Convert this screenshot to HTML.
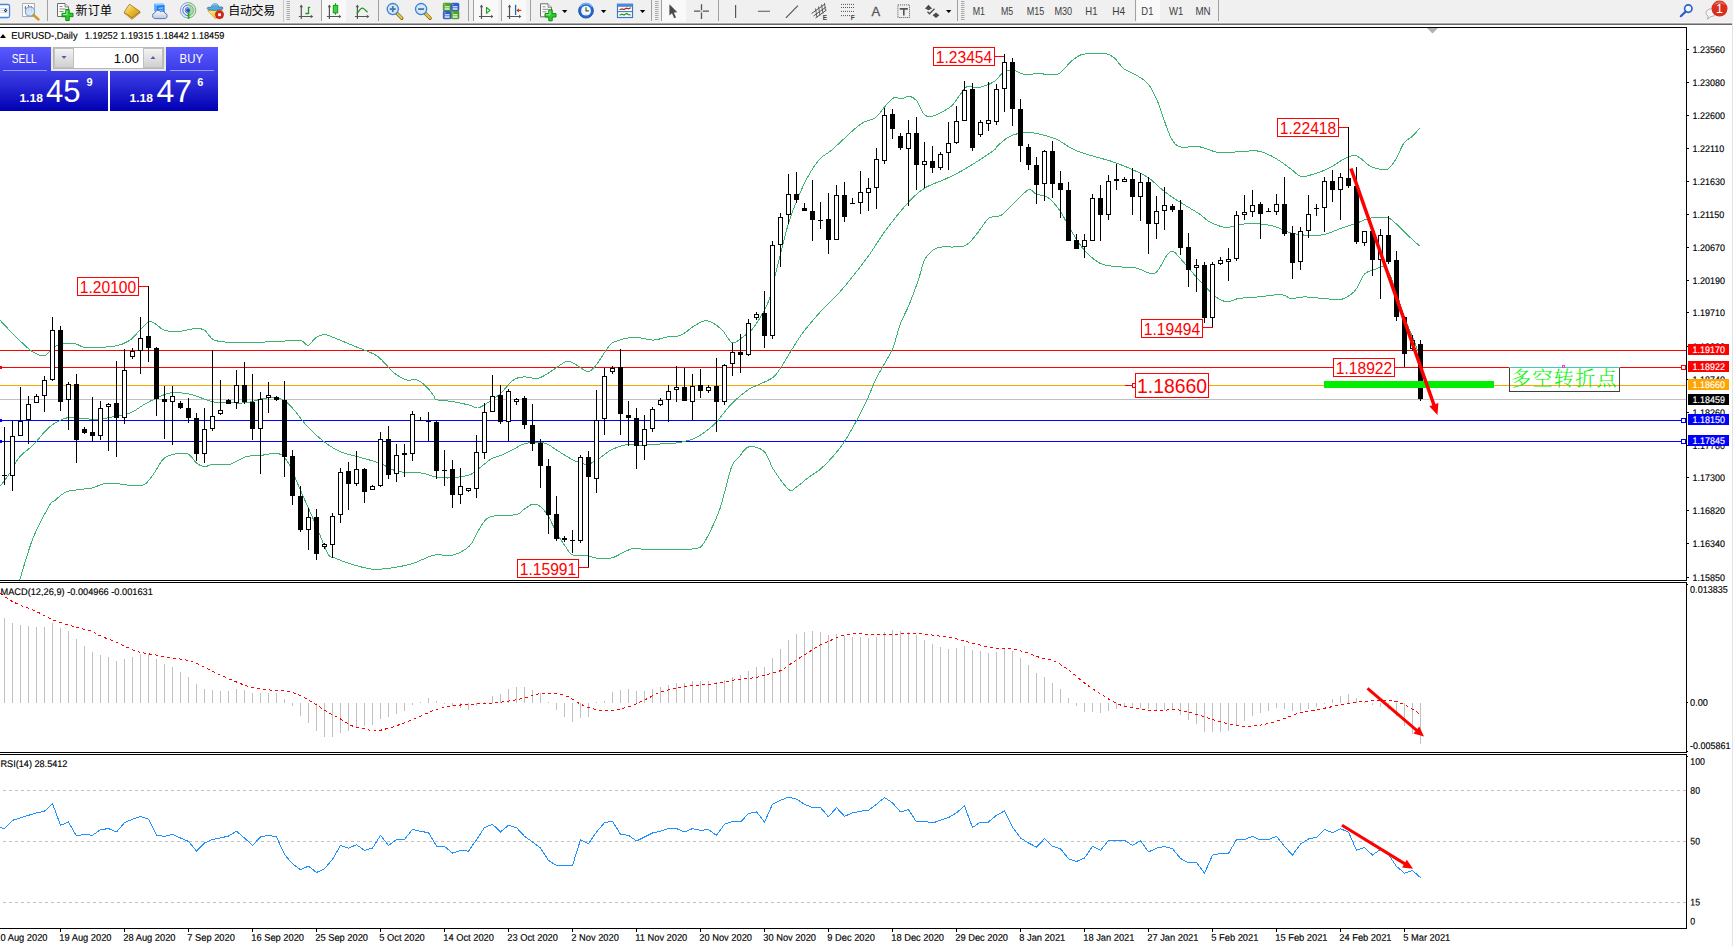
<!DOCTYPE html><html><head><meta charset="utf-8"><title>EURUSD-,Daily</title>
<style>html,body{margin:0;padding:0;background:#fff;overflow:hidden}body{width:1733px;height:946px;position:relative;font-family:"Liberation Sans", sans-serif}svg{position:absolute;left:0;top:0;display:block}text{font-family:"Liberation Sans", sans-serif}.cjk{font-family:"Liberation Sans", "Noto Sans CJK SC", sans-serif}</style></head><body>
<svg width="1733" height="946" viewBox="0 0 1733 946">
<defs><linearGradient id="gb" x1="0" y1="0" x2="0" y2="1"><stop offset="0" stop-color="#4040e8"/><stop offset="1" stop-color="#0000b4"/></linearGradient><linearGradient id="gt" x1="0" y1="0" x2="0" y2="1"><stop offset="0" stop-color="#5a5aff"/><stop offset="1" stop-color="#3a3ae6"/></linearGradient><linearGradient id="gs" x1="0" y1="0" x2="0" y2="1"><stop offset="0" stop-color="#f4f4f4"/><stop offset="1" stop-color="#cfcfcf"/></linearGradient><clipPath id="cm"><rect x="0" y="28" width="1686" height="552"/></clipPath></defs>
<rect width="1733" height="946" fill="#fff"/>
<g clip-path="url(#cm)">
<rect x="0" y="399" width="1686" height="1" fill="#c0c0c0" shape-rendering="crispEdges"/>
<rect x="0" y="350" width="1686" height="1" fill="#ff0000" shape-rendering="crispEdges"/>
<rect x="0" y="367" width="1686" height="1" fill="#ff0000" shape-rendering="crispEdges"/>
<rect x="0" y="385" width="1686" height="1" fill="#ffa500" shape-rendering="crispEdges"/>
<rect x="0" y="420" width="1686" height="1" fill="#0000ff" shape-rendering="crispEdges"/>
<rect x="0" y="441" width="1686" height="1" fill="#0000ff" shape-rendering="crispEdges"/>
<path d="M0.0,320.2C1.6,321.9 6.6,327.3 9.8,330.6C13.1,334.0 15.8,336.9 19.7,340.5C23.5,344.0 28.7,349.4 32.8,351.9C36.9,354.5 41.5,355.9 44.3,355.9C47.0,355.9 46.7,353.8 49.2,351.9C51.6,350.1 54.6,346.1 59.0,344.7C63.4,343.4 71.0,343.3 75.4,343.8C79.8,344.2 78.7,347.0 85.2,347.4C91.8,347.7 107.4,347.2 114.7,346.0C122.1,344.9 125.1,343.3 129.5,340.5C133.8,337.6 137.7,332.2 141.0,329.0C144.2,325.8 146.7,322.3 149.1,321.5C151.6,320.6 153.2,322.7 155.7,324.1C158.2,325.5 160.3,328.7 163.9,330.0C167.4,331.2 171.5,331.9 177.0,331.6C182.5,331.4 192.0,328.5 196.7,328.3C201.3,328.2 202.1,328.8 204.9,330.6C207.6,332.5 209.5,337.6 213.1,339.5C216.6,341.4 218.0,341.7 226.2,342.1C234.4,342.6 250.8,342.4 262.2,342.1C273.7,341.8 288.5,340.7 295.0,340.5C301.6,340.2 299.4,339.7 301.6,340.5C303.8,341.3 305.7,345.9 308.1,345.4C310.6,344.8 313.6,339.0 316.3,337.2C319.1,335.4 321.5,334.5 324.5,334.6C327.5,334.7 329.4,335.9 334.4,337.9C339.3,339.8 346.9,343.0 354.0,346.0C361.1,349.1 370.4,351.5 377.0,355.9C383.5,360.3 388.4,368.3 393.4,372.3C398.3,376.3 402.6,378.6 406.5,379.8C410.3,381.1 413.0,378.7 416.3,379.8C419.6,380.9 423.2,383.6 426.1,386.4C429.1,389.1 432.3,394.0 434.0,396.2C435.7,398.4 433.3,398.8 436.5,399.7C439.7,400.6 447.5,400.7 453.0,401.6C458.5,402.5 465.4,404.2 469.5,405.2C473.6,406.3 475.0,408.2 477.7,408.0C480.5,407.7 482.3,406.1 486.0,403.8C489.6,401.5 495.1,398.2 499.7,394.2C504.3,390.2 509.3,382.8 513.5,379.9C517.6,377.0 520.3,377.2 524.4,376.9C528.6,376.6 533.6,379.3 538.2,378.3C542.8,377.3 547.4,373.6 551.9,370.8C556.5,368.1 562.0,363.0 565.7,361.8C569.3,360.5 570.3,361.8 573.9,363.4C577.6,365.0 584.0,371.1 587.7,371.4C591.3,371.7 592.2,369.7 595.9,365.4C599.6,361.0 606.0,349.4 609.7,345.3C613.3,341.2 614.7,341.9 617.9,340.6C621.1,339.4 625.2,338.3 628.9,337.9C632.6,337.4 635.8,337.5 639.9,337.9C644.0,338.2 649.0,340.2 653.6,340.1C658.2,339.9 662.8,337.9 667.4,337.0C672.0,336.2 676.5,337.0 681.1,335.1C685.7,333.2 690.5,327.9 694.9,325.5C699.2,323.1 702.8,320.2 707.2,320.8C711.7,321.5 717.3,325.7 721.5,329.4C725.6,333.0 728.6,341.3 732.2,342.5C735.8,343.8 739.6,339.2 742.9,337.0C746.2,334.8 749.1,332.9 752.1,329.4C755.2,325.8 758.5,320.4 761.3,315.6C764.1,310.7 766.7,306.9 769.0,300.2C771.3,293.6 772.8,284.9 775.1,275.7C777.4,266.5 780.5,254.0 782.8,245.0C785.1,236.1 786.4,230.0 788.9,222.0C791.5,214.1 795.0,204.9 798.1,197.5C801.2,190.1 803.7,184.0 807.3,177.6C810.9,171.2 815.5,163.8 819.6,159.2C823.7,154.6 825.1,155.8 831.8,150.0C838.6,144.2 852.8,129.9 860.0,124.5C867.2,119.2 871.2,120.7 875.3,117.8C879.4,114.9 881.5,110.4 884.5,107.0C887.6,103.7 890.9,99.2 893.7,97.8C896.5,96.5 898.8,99.0 901.4,98.8C903.9,98.5 906.5,96.0 909.1,96.3C911.6,96.7 914.2,97.8 916.7,100.9C919.3,104.0 921.8,112.2 924.4,114.7C926.9,117.3 929.0,116.8 932.0,116.2C935.1,115.7 939.5,113.4 942.8,111.6C946.1,109.9 948.9,108.6 952.0,105.5C955.0,102.4 958.6,96.4 961.2,93.3C963.7,90.1 964.7,87.4 967.3,86.5C969.9,85.6 973.4,87.9 976.5,87.7C979.6,87.6 982.6,86.7 985.7,85.6C988.8,84.5 991.8,83.3 994.9,81.0C998.0,78.7 1001.0,73.6 1004.1,71.8C1007.2,70.0 1009.7,69.7 1013.3,70.3C1016.9,70.8 1021.5,74.3 1025.6,74.9C1029.6,75.4 1033.7,73.3 1037.8,73.3C1041.9,73.3 1046.5,74.9 1050.1,74.9C1053.7,74.9 1055.7,75.6 1059.3,73.3C1062.9,71.0 1068.0,64.1 1071.5,61.1C1075.1,58.0 1077.2,56.2 1080.7,54.9C1084.3,53.7 1088.9,53.7 1093.0,53.4C1097.1,53.1 1101.7,52.6 1105.3,53.4C1108.8,54.2 1111.4,55.4 1114.5,58.0C1117.5,60.5 1120.1,65.9 1123.7,68.7C1127.2,71.5 1131.8,72.3 1135.9,74.9C1140.0,77.4 1144.6,79.7 1148.2,84.1C1151.8,88.4 1154.3,93.8 1157.4,100.9C1160.5,108.1 1164.0,120.3 1166.6,127.0C1169.1,133.6 1170.4,137.4 1172.7,140.8C1175.0,144.1 1175.8,145.9 1180.4,146.9C1184.9,147.9 1193.6,145.9 1200.0,146.9C1206.4,147.9 1212.5,151.9 1219.0,152.8C1225.4,153.6 1232.1,152.0 1238.6,151.8C1245.2,151.5 1252.3,150.1 1258.3,151.1C1264.3,152.1 1269.2,154.7 1274.6,157.7C1280.1,160.7 1286.7,166.0 1291.0,169.1C1295.4,172.2 1297.0,175.5 1300.8,176.3C1304.7,177.2 1309.0,175.5 1313.9,174.0C1318.9,172.6 1325.4,170.0 1330.3,167.5C1335.2,165.0 1339.6,161.3 1343.4,159.3C1347.3,157.3 1350.5,155.6 1353.3,155.4C1356.0,155.1 1357.1,155.9 1359.8,157.7C1362.5,159.4 1366.4,163.9 1369.6,165.9C1372.9,167.8 1376.5,168.6 1379.5,169.1C1382.5,169.7 1384.9,170.8 1387.6,169.1C1390.4,167.5 1393.1,163.7 1395.8,159.3C1398.6,154.9 1401.3,146.8 1404.0,142.9C1406.8,139.1 1409.6,138.8 1412.2,136.4C1414.8,133.9 1418.5,129.6 1419.7,128.2" fill="none" stroke="#3cb371" stroke-width="1" shape-rendering="crispEdges"/>
<path d="M0.0,486.3C1.6,484.2 6.6,478.1 9.8,473.2C13.1,468.3 15.8,461.5 19.7,456.8C23.5,452.2 27.9,450.3 32.8,445.4C37.7,440.5 43.7,431.9 49.2,427.3C54.6,422.8 60.6,419.6 65.6,418.2C70.5,416.7 73.2,418.3 78.7,418.5C84.1,418.7 92.3,419.5 98.3,419.1C104.3,418.8 109.3,417.6 114.7,416.5C120.2,415.4 126.2,414.6 131.1,412.6C136.0,410.6 139.9,406.9 144.2,404.4C148.6,401.9 153.0,399.8 157.3,397.8C161.7,395.9 165.5,393.6 170.5,392.9C175.4,392.2 182.5,393.0 186.8,393.6C191.2,394.1 192.3,394.8 196.7,396.2C201.0,397.6 207.6,400.7 213.1,401.8C218.5,402.9 224.0,402.6 229.5,402.8C234.9,402.9 240.4,403.4 245.8,402.8C251.3,402.1 257.3,399.8 262.2,398.8C267.2,397.9 271.5,396.8 275.3,397.2C279.2,397.6 281.9,398.8 285.2,401.1C288.5,403.4 291.2,406.6 295.0,411.0C298.8,415.3 303.2,422.2 308.1,427.3C313.0,432.5 319.1,438.0 324.5,442.1C330.0,446.2 334.9,449.4 340.9,451.9C346.9,454.5 354.0,455.6 360.6,457.5C367.1,459.4 374.8,461.3 380.2,463.4C385.7,465.5 389.0,468.4 393.4,470.0C397.7,471.5 401.5,472.0 406.5,472.6C411.4,473.1 418.3,472.6 422.9,473.2C427.4,473.9 429.9,475.7 434.0,476.5C438.1,477.3 442.9,478.0 447.5,478.0C452.0,478.1 457.3,477.3 461.2,476.7C465.1,476.1 467.9,475.8 470.8,474.5C473.8,473.1 475.7,471.0 479.1,468.4C482.5,465.8 487.6,461.1 491.5,458.8C495.4,456.5 498.8,456.3 502.5,454.7C506.1,453.1 509.8,451.0 513.5,449.2C517.1,447.4 520.8,444.8 524.4,443.7C528.1,442.5 531.8,442.3 535.4,442.3C539.1,442.3 542.8,442.3 546.4,443.7C550.1,445.1 553.8,448.3 557.4,450.6C561.1,452.8 565.2,455.6 568.4,457.4C571.6,459.3 573.5,460.4 576.7,461.6C579.9,462.7 584.0,464.8 587.7,464.3C591.3,463.8 594.5,461.3 598.7,458.8C602.8,456.3 607.4,451.6 612.4,449.2C617.4,446.8 624.3,444.9 628.9,444.2C633.5,443.5 635.8,445.1 639.9,445.1C644.0,445.1 649.0,444.5 653.6,444.2C658.2,444.0 662.8,444.0 667.4,443.7C672.0,443.4 676.5,443.2 681.1,442.3C685.7,441.4 690.7,440.0 694.9,438.2C699.0,436.4 702.2,434.1 705.9,431.3C709.5,428.6 713.2,425.6 716.8,421.7C720.5,417.8 724.2,412.1 727.8,408.0C731.5,403.8 735.2,400.2 738.8,397.0C742.5,393.8 746.3,390.9 749.8,388.7C753.4,386.6 756.0,386.0 760.0,384.0C764.0,382.1 769.8,380.1 773.6,376.9C777.4,373.6 779.7,369.2 782.8,364.6C785.8,360.0 788.4,354.9 792.0,349.3C795.6,343.7 799.1,337.5 804.2,330.9C809.3,324.2 817.0,315.6 822.6,309.4C828.3,303.3 832.9,299.7 838.0,294.1C843.1,288.5 848.2,282.1 853.3,275.7C858.4,269.3 863.5,262.9 868.6,255.8C873.7,248.6 878.8,239.9 883.9,232.8C889.1,225.6 894.2,219.0 899.3,212.8C904.4,206.7 910.0,200.3 914.6,196.0C919.2,191.6 921.8,189.6 926.9,186.8C932.0,184.0 939.6,181.7 945.3,179.1C950.9,176.6 955.5,174.3 960.6,171.5C965.7,168.7 970.3,165.8 975.9,162.3C981.5,158.7 990.6,152.8 994.3,150.0C998.0,147.2 995.3,147.7 998.0,145.4C1000.6,143.1 1005.6,138.3 1010.2,136.2C1014.8,134.0 1021.0,132.9 1025.6,132.5C1030.2,132.1 1032.7,132.6 1037.8,133.7C1042.9,134.8 1050.1,136.5 1056.2,139.2C1062.3,141.9 1068.5,147.2 1074.6,150.0C1080.7,152.8 1086.9,154.2 1093.0,156.1C1099.1,158.0 1105.3,159.3 1111.4,161.3C1117.5,163.4 1123.7,165.7 1129.8,168.4C1135.9,171.1 1143.1,174.2 1148.2,177.6C1153.3,180.9 1156.4,185.0 1160.5,188.3C1164.5,191.6 1168.6,194.7 1172.7,197.5C1176.8,200.3 1180.4,202.3 1185.0,205.2C1189.5,208.0 1196.0,211.6 1200.0,214.4C1204.0,217.1 1204.9,219.4 1209.1,221.5C1213.4,223.7 1220.1,227.0 1225.5,227.4C1231.0,227.9 1236.4,224.8 1241.9,224.2C1247.3,223.6 1252.8,223.5 1258.3,223.8C1263.7,224.2 1269.2,224.9 1274.6,226.5C1280.1,228.0 1285.6,231.5 1291.0,233.0C1296.5,234.5 1301.9,235.0 1307.4,235.3C1312.9,235.6 1318.3,235.7 1323.8,234.6C1329.2,233.6 1334.7,230.7 1340.2,228.7C1345.6,226.8 1351.6,224.9 1356.5,223.2C1361.4,221.4 1365.3,219.2 1369.6,218.3C1374.0,217.3 1379.5,217.3 1382.7,217.3C1386.0,217.3 1386.6,216.7 1389.3,218.3C1392.0,219.8 1395.8,223.5 1399.1,226.5C1402.4,229.5 1405.5,233.0 1408.9,236.3C1412.4,239.6 1417.9,244.5 1419.7,246.1" fill="none" stroke="#3cb371" stroke-width="1" shape-rendering="crispEdges"/>
<path d="M19.7,580.1C21.9,573.2 27.9,551.1 32.8,538.8C37.7,526.4 45.6,512.3 49.2,506.0C52.7,499.7 51.4,503.4 54.1,501.1C56.8,498.8 61.5,494.2 65.6,492.2C69.7,490.3 74.3,490.3 78.7,489.6C83.0,488.9 86.9,489.1 91.8,488.0C96.7,486.9 101.6,483.5 108.2,483.1C114.7,482.6 125.1,485.1 131.1,485.4C137.1,485.6 140.4,486.7 144.2,484.7C148.1,482.7 150.8,477.6 154.1,473.2C157.3,468.9 160.1,461.8 163.9,458.5C167.7,455.2 172.9,454.3 177.0,453.6C181.1,452.9 185.2,452.6 188.5,454.2C191.8,455.9 193.9,461.3 196.7,463.4C199.4,465.5 202.1,466.6 204.9,466.7C207.6,466.8 209.0,464.4 213.1,464.1C217.2,463.7 224.0,465.6 229.5,464.4C234.9,463.2 240.4,458.4 245.8,456.8C251.3,455.3 256.8,455.8 262.2,455.2C267.7,454.7 274.3,452.2 278.6,453.6C283.0,454.9 284.6,456.8 288.5,463.4C292.3,470.0 297.2,483.1 301.6,492.9C305.9,502.7 310.3,512.3 314.7,522.4C319.1,532.5 324.5,547.6 327.8,553.5C331.1,559.4 330.0,555.9 334.4,557.8C338.7,559.7 347.5,563.1 354.0,565.0C360.6,566.9 367.1,568.8 373.7,569.3C380.2,569.7 386.8,568.6 393.4,567.6C399.9,566.7 406.2,565.5 413.0,563.4C419.8,561.3 427.3,556.6 434.0,555.2C440.7,553.8 447.1,556.5 453.0,555.0C458.9,553.5 465.4,549.8 469.5,545.9C473.6,542.0 475.0,536.1 477.7,531.6C480.5,527.2 483.2,521.9 486.0,519.3C488.7,516.7 489.2,516.8 494.2,516.0C499.3,515.2 511.2,515.7 516.2,514.6C521.2,513.5 521.7,510.8 524.4,509.1C527.2,507.4 529.9,504.5 532.7,504.2C535.4,503.8 538.2,504.6 540.9,506.9C543.7,509.2 546.4,513.3 549.2,517.9C551.9,522.5 554.7,529.6 557.4,534.4C560.2,539.2 563.2,543.3 565.7,546.8C568.2,550.2 568.9,553.5 572.5,555.0C576.2,556.5 583.3,555.2 587.7,555.8C592.0,556.4 594.5,558.3 598.7,558.6C602.8,558.9 608.3,558.8 612.4,557.8C616.5,556.7 619.7,553.9 623.4,552.3C627.1,550.7 630.7,548.6 634.4,548.1C638.1,547.7 639.9,549.3 645.4,549.5C650.9,549.7 659.1,549.6 667.4,549.5C675.6,549.4 688.9,549.6 694.9,548.7C700.8,547.8 700.4,547.3 703.1,544.0C705.9,540.7 708.6,534.6 711.4,528.9C714.1,523.2 717.3,516.1 719.6,509.7C721.9,503.2 723.0,497.7 725.1,490.4C727.2,483.1 729.7,471.2 732.0,465.7C734.3,460.2 736.1,460.5 738.8,457.4C741.6,454.3 744.3,448.0 748.5,447.0C752.6,445.9 759.4,447.2 763.7,451.1C767.9,454.9 769.8,463.9 774.0,470.3C778.2,476.7 785.1,486.7 788.8,489.5C792.5,492.4 793.0,489.3 796.2,487.3C799.4,485.4 804.1,480.7 808.1,477.7C812.0,474.7 815.7,473.1 819.9,469.6C824.1,466.0 829.3,460.7 833.2,456.2C837.2,451.8 839.6,449.0 843.6,442.9C847.5,436.9 853.0,427.2 856.9,420.0C860.9,412.7 864.2,405.9 867.3,399.2C870.4,392.6 872.6,385.8 875.4,380.0C878.2,374.2 881.0,370.0 883.9,364.6C886.9,359.2 890.5,354.3 893.1,347.7C895.8,341.1 897.2,332.2 899.9,325.0C902.5,317.9 906.0,312.3 909.1,304.8C912.1,297.3 915.7,287.7 918.3,280.3C920.8,272.9 922.1,265.2 924.4,260.3C926.7,255.5 929.5,253.3 932.0,251.1C934.6,248.9 934.3,248.0 939.7,247.2C945.1,246.3 958.1,248.1 964.2,245.9C970.4,243.8 972.4,238.9 976.5,234.3C980.6,229.7 984.7,221.5 988.8,218.3C992.9,215.2 996.9,217.7 1001.0,215.3C1005.1,212.8 1008.7,207.9 1013.3,203.6C1017.9,199.4 1024.8,191.4 1028.6,189.8C1032.5,188.3 1033.2,193.2 1036.3,194.4C1039.4,195.6 1043.2,194.3 1047.0,196.9C1050.8,199.4 1055.2,204.0 1059.3,209.8C1063.4,215.5 1067.5,224.6 1071.5,231.2C1075.6,237.9 1079.2,244.3 1083.8,249.6C1088.4,254.9 1094.0,260.0 1099.1,262.8C1104.2,265.6 1108.3,265.6 1114.5,266.5C1120.6,267.3 1130.0,266.9 1135.9,268.0C1141.8,269.1 1146.1,272.7 1149.7,273.2C1153.3,273.7 1154.6,274.0 1157.4,271.1C1160.2,268.2 1164.0,259.1 1166.6,255.7C1169.1,252.4 1170.2,250.4 1172.7,251.1C1175.3,251.9 1178.8,257.0 1181.9,260.3C1185.0,263.7 1187.7,267.2 1191.1,271.1C1194.6,275.0 1198.5,279.5 1202.6,283.8C1206.7,288.1 1211.6,293.9 1215.7,296.9C1219.8,299.9 1223.3,301.5 1227.1,301.8C1231.0,302.1 1233.4,299.3 1238.6,298.5C1243.8,297.7 1251.2,297.5 1258.3,296.9C1265.4,296.2 1275.7,294.3 1281.2,294.6C1286.7,294.9 1287.2,298.1 1291.0,298.5C1294.8,298.9 1298.7,296.9 1304.1,296.9C1309.6,296.9 1317.8,298.1 1323.8,298.5C1329.8,299.0 1335.8,300.0 1340.2,299.5C1344.5,299.0 1347.3,297.0 1350.0,295.2C1352.7,293.4 1354.1,292.2 1356.5,288.7C1359.0,285.1 1361.4,277.2 1364.7,273.9C1368.0,270.7 1372.6,270.1 1376.2,269.0C1379.7,267.9 1382.7,263.9 1386.0,267.4C1389.3,270.9 1392.8,282.1 1395.8,290.3C1398.8,298.5 1401.3,308.9 1404.0,316.5C1406.8,324.2 1409.6,329.6 1412.2,336.2C1414.8,342.7 1418.5,352.6 1419.7,355.8" fill="none" stroke="#3cb371" stroke-width="1" shape-rendering="crispEdges"/>
<g fill="#000" shape-rendering="crispEdges"><rect x="4" y="427" width="1" height="58"/><rect x="2" y="475" width="5" height="1"/><rect x="12" y="421" width="1" height="70"/><rect x="10" y="436" width="5" height="40"/><rect x="11" y="437" width="3" height="38" fill="#fff"/><rect x="20" y="387" width="1" height="49"/><rect x="18" y="421" width="5" height="15"/><rect x="19" y="422" width="3" height="13" fill="#fff"/><rect x="28" y="396" width="1" height="48"/><rect x="26" y="404" width="5" height="16"/><rect x="27" y="405" width="3" height="14" fill="#fff"/><rect x="36" y="394" width="1" height="9"/><rect x="34" y="396" width="5" height="7"/><rect x="35" y="397" width="3" height="5" fill="#fff"/><rect x="44" y="376" width="1" height="36"/><rect x="42" y="380" width="5" height="16"/><rect x="43" y="381" width="3" height="14" fill="#fff"/><rect x="52" y="317" width="1" height="64"/><rect x="50" y="330" width="5" height="50"/><rect x="51" y="331" width="3" height="48" fill="#fff"/><rect x="60" y="326" width="1" height="85"/><rect x="58" y="330" width="5" height="72"/><rect x="68" y="382" width="1" height="48"/><rect x="66" y="384" width="5" height="16"/><rect x="67" y="385" width="3" height="14" fill="#fff"/><rect x="76" y="374" width="1" height="89"/><rect x="74" y="384" width="5" height="56"/><rect x="84" y="427" width="1" height="7"/><rect x="82" y="429" width="5" height="4"/><rect x="92" y="397" width="1" height="45"/><rect x="90" y="432" width="5" height="4"/><rect x="100" y="401" width="1" height="39"/><rect x="98" y="408" width="5" height="28"/><rect x="99" y="409" width="3" height="26" fill="#fff"/><rect x="108" y="403" width="1" height="48"/><rect x="106" y="404" width="5" height="3"/><rect x="107" y="405" width="3" height="1" fill="#fff"/><rect x="116" y="361" width="1" height="96"/><rect x="114" y="403" width="5" height="15"/><rect x="124" y="349" width="1" height="75"/><rect x="122" y="370" width="5" height="48"/><rect x="123" y="371" width="3" height="46" fill="#fff"/><rect x="132" y="348" width="1" height="11"/><rect x="130" y="351" width="5" height="6"/><rect x="131" y="352" width="3" height="4" fill="#fff"/><rect x="140" y="317" width="1" height="57"/><rect x="138" y="338" width="5" height="13"/><rect x="139" y="339" width="3" height="11" fill="#fff"/><rect x="148" y="286" width="1" height="76"/><rect x="146" y="336" width="5" height="12"/><rect x="156" y="347" width="1" height="69"/><rect x="154" y="348" width="5" height="51"/><rect x="164" y="386" width="1" height="53"/><rect x="162" y="399" width="5" height="3"/><rect x="172" y="386" width="1" height="59"/><rect x="170" y="396" width="5" height="6"/><rect x="171" y="397" width="3" height="4" fill="#fff"/><rect x="180" y="401" width="1" height="8"/><rect x="178" y="403" width="5" height="5"/><rect x="188" y="398" width="1" height="25"/><rect x="186" y="408" width="5" height="10"/><rect x="196" y="413" width="1" height="48"/><rect x="194" y="418" width="5" height="36"/><rect x="204" y="408" width="1" height="55"/><rect x="202" y="429" width="5" height="25"/><rect x="203" y="430" width="3" height="23" fill="#fff"/><rect x="212" y="350" width="1" height="81"/><rect x="210" y="416" width="5" height="13"/><rect x="211" y="417" width="3" height="11" fill="#fff"/><rect x="220" y="380" width="1" height="35"/><rect x="218" y="410" width="5" height="4"/><rect x="219" y="411" width="3" height="2" fill="#fff"/><rect x="228" y="399" width="1" height="5"/><rect x="226" y="400" width="5" height="4"/><rect x="236" y="370" width="1" height="39"/><rect x="234" y="385" width="5" height="18"/><rect x="235" y="386" width="3" height="16" fill="#fff"/><rect x="244" y="362" width="1" height="42"/><rect x="242" y="385" width="5" height="17"/><rect x="252" y="374" width="1" height="66"/><rect x="250" y="402" width="5" height="27"/><rect x="260" y="392" width="1" height="82"/><rect x="258" y="399" width="5" height="30"/><rect x="259" y="400" width="3" height="28" fill="#fff"/><rect x="268" y="382" width="1" height="31"/><rect x="266" y="395" width="5" height="3"/><rect x="267" y="396" width="3" height="1" fill="#fff"/><rect x="276" y="396" width="1" height="5"/><rect x="274" y="397" width="5" height="3"/><rect x="284" y="381" width="1" height="96"/><rect x="282" y="400" width="5" height="57"/><rect x="292" y="450" width="1" height="55"/><rect x="290" y="456" width="5" height="40"/><rect x="300" y="486" width="1" height="46"/><rect x="298" y="496" width="5" height="34"/><rect x="308" y="508" width="1" height="42"/><rect x="306" y="517" width="5" height="13"/><rect x="307" y="518" width="3" height="11" fill="#fff"/><rect x="316" y="509" width="1" height="51"/><rect x="314" y="517" width="5" height="37"/><rect x="324" y="543" width="1" height="6"/><rect x="322" y="544" width="5" height="3"/><rect x="323" y="545" width="3" height="1" fill="#fff"/><rect x="332" y="513" width="1" height="45"/><rect x="330" y="516" width="5" height="29"/><rect x="331" y="517" width="3" height="27" fill="#fff"/><rect x="340" y="468" width="1" height="55"/><rect x="338" y="472" width="5" height="43"/><rect x="339" y="473" width="3" height="41" fill="#fff"/><rect x="348" y="462" width="1" height="48"/><rect x="346" y="471" width="5" height="13"/><rect x="356" y="451" width="1" height="35"/><rect x="354" y="469" width="5" height="15"/><rect x="355" y="470" width="3" height="13" fill="#fff"/><rect x="364" y="468" width="1" height="35"/><rect x="362" y="469" width="5" height="23"/><rect x="372" y="485" width="1" height="5"/><rect x="370" y="486" width="5" height="4"/><rect x="371" y="487" width="3" height="2" fill="#fff"/><rect x="380" y="432" width="1" height="55"/><rect x="378" y="439" width="5" height="47"/><rect x="379" y="440" width="3" height="45" fill="#fff"/><rect x="388" y="426" width="1" height="53"/><rect x="386" y="439" width="5" height="36"/><rect x="396" y="444" width="1" height="38"/><rect x="394" y="455" width="5" height="19"/><rect x="395" y="456" width="3" height="17" fill="#fff"/><rect x="404" y="444" width="1" height="33"/><rect x="402" y="453" width="5" height="2"/><rect x="412" y="411" width="1" height="50"/><rect x="410" y="414" width="5" height="40"/><rect x="411" y="415" width="3" height="38" fill="#fff"/><rect x="420" y="417" width="1" height="4"/><rect x="418" y="420" width="5" height="1"/><rect x="428" y="412" width="1" height="29"/><rect x="426" y="421" width="5" height="1"/><rect x="436" y="421" width="1" height="58"/><rect x="434" y="422" width="5" height="49"/><rect x="444" y="450" width="1" height="36"/><rect x="442" y="470" width="5" height="1"/><rect x="452" y="460" width="1" height="48"/><rect x="450" y="469" width="5" height="26"/><rect x="460" y="468" width="1" height="36"/><rect x="458" y="486" width="5" height="9"/><rect x="459" y="487" width="3" height="7" fill="#fff"/><rect x="468" y="488" width="1" height="4"/><rect x="466" y="488" width="5" height="3"/><rect x="467" y="489" width="3" height="1" fill="#fff"/><rect x="476" y="435" width="1" height="63"/><rect x="474" y="452" width="5" height="37"/><rect x="475" y="453" width="3" height="35" fill="#fff"/><rect x="484" y="403" width="1" height="56"/><rect x="482" y="412" width="5" height="41"/><rect x="483" y="413" width="3" height="39" fill="#fff"/><rect x="492" y="375" width="1" height="37"/><rect x="490" y="396" width="5" height="16"/><rect x="491" y="397" width="3" height="14" fill="#fff"/><rect x="500" y="385" width="1" height="39"/><rect x="498" y="395" width="5" height="27"/><rect x="508" y="389" width="1" height="52"/><rect x="506" y="391" width="5" height="31"/><rect x="507" y="392" width="3" height="29" fill="#fff"/><rect x="516" y="398" width="1" height="7"/><rect x="514" y="399" width="5" height="3"/><rect x="515" y="400" width="3" height="1" fill="#fff"/><rect x="524" y="396" width="1" height="33"/><rect x="522" y="398" width="5" height="27"/><rect x="532" y="404" width="1" height="47"/><rect x="530" y="425" width="5" height="19"/><rect x="540" y="439" width="1" height="49"/><rect x="538" y="443" width="5" height="23"/><rect x="548" y="459" width="1" height="75"/><rect x="546" y="466" width="5" height="49"/><rect x="556" y="496" width="1" height="45"/><rect x="554" y="514" width="5" height="25"/><rect x="564" y="536" width="1" height="6"/><rect x="562" y="538" width="5" height="2"/><rect x="572" y="530" width="1" height="23"/><rect x="570" y="540" width="5" height="1"/><rect x="580" y="455" width="1" height="88"/><rect x="578" y="457" width="5" height="84"/><rect x="579" y="458" width="3" height="82" fill="#fff"/><rect x="588" y="451" width="1" height="116"/><rect x="586" y="457" width="5" height="20"/><rect x="596" y="390" width="1" height="103"/><rect x="594" y="420" width="5" height="59"/><rect x="595" y="421" width="3" height="57" fill="#fff"/><rect x="604" y="368" width="1" height="67"/><rect x="602" y="376" width="5" height="43"/><rect x="603" y="377" width="3" height="41" fill="#fff"/><rect x="612" y="366" width="1" height="8"/><rect x="610" y="368" width="5" height="4"/><rect x="611" y="369" width="3" height="2" fill="#fff"/><rect x="620" y="349" width="1" height="86"/><rect x="618" y="367" width="5" height="47"/><rect x="628" y="401" width="1" height="45"/><rect x="626" y="415" width="5" height="3"/><rect x="636" y="408" width="1" height="61"/><rect x="634" y="418" width="5" height="28"/><rect x="644" y="415" width="1" height="45"/><rect x="642" y="429" width="5" height="17"/><rect x="643" y="430" width="3" height="15" fill="#fff"/><rect x="652" y="407" width="1" height="25"/><rect x="650" y="409" width="5" height="20"/><rect x="651" y="410" width="3" height="18" fill="#fff"/><rect x="660" y="398" width="1" height="8"/><rect x="658" y="400" width="5" height="5"/><rect x="659" y="401" width="3" height="3" fill="#fff"/><rect x="668" y="385" width="1" height="37"/><rect x="666" y="391" width="5" height="9"/><rect x="667" y="392" width="3" height="7" fill="#fff"/><rect x="676" y="366" width="1" height="36"/><rect x="674" y="387" width="5" height="3"/><rect x="675" y="388" width="3" height="1" fill="#fff"/><rect x="684" y="368" width="1" height="33"/><rect x="682" y="387" width="5" height="14"/><rect x="692" y="374" width="1" height="46"/><rect x="690" y="386" width="5" height="16"/><rect x="691" y="387" width="3" height="14" fill="#fff"/><rect x="700" y="369" width="1" height="29"/><rect x="698" y="385" width="5" height="6"/><rect x="708" y="385" width="1" height="8"/><rect x="706" y="387" width="5" height="4"/><rect x="707" y="388" width="3" height="2" fill="#fff"/><rect x="716" y="358" width="1" height="74"/><rect x="714" y="386" width="5" height="16"/><rect x="724" y="364" width="1" height="41"/><rect x="722" y="365" width="5" height="37"/><rect x="723" y="366" width="3" height="35" fill="#fff"/><rect x="732" y="343" width="1" height="33"/><rect x="730" y="352" width="5" height="12"/><rect x="731" y="353" width="3" height="10" fill="#fff"/><rect x="740" y="334" width="1" height="39"/><rect x="738" y="352" width="5" height="3"/><rect x="748" y="319" width="1" height="37"/><rect x="746" y="323" width="5" height="32"/><rect x="747" y="324" width="3" height="30" fill="#fff"/><rect x="756" y="312" width="1" height="8"/><rect x="754" y="314" width="5" height="4"/><rect x="755" y="315" width="3" height="2" fill="#fff"/><rect x="764" y="291" width="1" height="57"/><rect x="762" y="313" width="5" height="23"/><rect x="772" y="241" width="1" height="98"/><rect x="770" y="245" width="5" height="91"/><rect x="771" y="246" width="3" height="89" fill="#fff"/><rect x="780" y="213" width="1" height="54"/><rect x="778" y="217" width="5" height="28"/><rect x="779" y="218" width="3" height="26" fill="#fff"/><rect x="788" y="174" width="1" height="50"/><rect x="786" y="194" width="5" height="21"/><rect x="787" y="195" width="3" height="19" fill="#fff"/><rect x="796" y="172" width="1" height="31"/><rect x="794" y="194" width="5" height="6"/><rect x="804" y="203" width="1" height="8"/><rect x="802" y="208" width="5" height="3"/><rect x="812" y="180" width="1" height="61"/><rect x="810" y="211" width="5" height="9"/><rect x="820" y="202" width="1" height="27"/><rect x="818" y="220" width="5" height="1"/><rect x="828" y="193" width="1" height="61"/><rect x="826" y="219" width="5" height="21"/><rect x="836" y="185" width="1" height="55"/><rect x="834" y="195" width="5" height="45"/><rect x="835" y="196" width="3" height="43" fill="#fff"/><rect x="844" y="182" width="1" height="40"/><rect x="842" y="195" width="5" height="22"/><rect x="852" y="198" width="1" height="6"/><rect x="850" y="203" width="5" height="1"/><rect x="860" y="171" width="1" height="43"/><rect x="858" y="192" width="5" height="11"/><rect x="859" y="193" width="3" height="9" fill="#fff"/><rect x="868" y="178" width="1" height="33"/><rect x="866" y="188" width="5" height="5"/><rect x="867" y="189" width="3" height="3" fill="#fff"/><rect x="876" y="148" width="1" height="61"/><rect x="874" y="159" width="5" height="29"/><rect x="875" y="160" width="3" height="27" fill="#fff"/><rect x="884" y="108" width="1" height="56"/><rect x="882" y="115" width="5" height="46"/><rect x="883" y="116" width="3" height="44" fill="#fff"/><rect x="892" y="109" width="1" height="30"/><rect x="890" y="114" width="5" height="15"/><rect x="900" y="133" width="1" height="17"/><rect x="898" y="136" width="5" height="12"/><rect x="908" y="120" width="1" height="86"/><rect x="906" y="133" width="5" height="16"/><rect x="907" y="134" width="3" height="14" fill="#fff"/><rect x="916" y="117" width="1" height="73"/><rect x="914" y="133" width="5" height="32"/><rect x="924" y="142" width="1" height="46"/><rect x="922" y="161" width="5" height="4"/><rect x="923" y="162" width="3" height="2" fill="#fff"/><rect x="932" y="146" width="1" height="27"/><rect x="930" y="161" width="5" height="7"/><rect x="940" y="152" width="1" height="18"/><rect x="938" y="154" width="5" height="14"/><rect x="939" y="155" width="3" height="12" fill="#fff"/><rect x="948" y="122" width="1" height="48"/><rect x="946" y="143" width="5" height="10"/><rect x="947" y="144" width="3" height="8" fill="#fff"/><rect x="956" y="106" width="1" height="38"/><rect x="954" y="121" width="5" height="22"/><rect x="955" y="122" width="3" height="20" fill="#fff"/><rect x="964" y="81" width="1" height="40"/><rect x="962" y="90" width="5" height="31"/><rect x="963" y="91" width="3" height="29" fill="#fff"/><rect x="972" y="83" width="1" height="68"/><rect x="970" y="89" width="5" height="59"/><rect x="980" y="120" width="1" height="17"/><rect x="978" y="122" width="5" height="13"/><rect x="979" y="123" width="3" height="11" fill="#fff"/><rect x="988" y="82" width="1" height="49"/><rect x="986" y="120" width="5" height="4"/><rect x="987" y="121" width="3" height="2" fill="#fff"/><rect x="996" y="84" width="1" height="41"/><rect x="994" y="89" width="5" height="33"/><rect x="995" y="90" width="3" height="31" fill="#fff"/><rect x="1004" y="54" width="1" height="58"/><rect x="1002" y="62" width="5" height="27"/><rect x="1003" y="63" width="3" height="25" fill="#fff"/><rect x="1012" y="58" width="1" height="68"/><rect x="1010" y="62" width="5" height="47"/><rect x="1020" y="99" width="1" height="63"/><rect x="1018" y="109" width="5" height="37"/><rect x="1028" y="144" width="1" height="26"/><rect x="1026" y="147" width="5" height="18"/><rect x="1036" y="157" width="1" height="47"/><rect x="1034" y="165" width="5" height="20"/><rect x="1044" y="150" width="1" height="51"/><rect x="1042" y="151" width="5" height="33"/><rect x="1043" y="152" width="3" height="31" fill="#fff"/><rect x="1052" y="141" width="1" height="57"/><rect x="1050" y="151" width="5" height="33"/><rect x="1060" y="171" width="1" height="47"/><rect x="1058" y="183" width="5" height="7"/><rect x="1068" y="182" width="1" height="59"/><rect x="1066" y="190" width="5" height="51"/><rect x="1076" y="234" width="1" height="15"/><rect x="1074" y="240" width="5" height="9"/><rect x="1084" y="234" width="1" height="24"/><rect x="1082" y="240" width="5" height="7"/><rect x="1083" y="241" width="3" height="5" fill="#fff"/><rect x="1092" y="194" width="1" height="47"/><rect x="1090" y="198" width="5" height="43"/><rect x="1091" y="199" width="3" height="41" fill="#fff"/><rect x="1100" y="185" width="1" height="56"/><rect x="1098" y="198" width="5" height="17"/><rect x="1108" y="175" width="1" height="45"/><rect x="1106" y="181" width="5" height="34"/><rect x="1107" y="182" width="3" height="32" fill="#fff"/><rect x="1116" y="164" width="1" height="26"/><rect x="1114" y="179" width="5" height="2"/><rect x="1124" y="177" width="1" height="5"/><rect x="1122" y="179" width="5" height="3"/><rect x="1123" y="180" width="3" height="1" fill="#fff"/><rect x="1132" y="168" width="1" height="47"/><rect x="1130" y="179" width="5" height="18"/><rect x="1140" y="173" width="1" height="48"/><rect x="1138" y="182" width="5" height="15"/><rect x="1139" y="183" width="3" height="13" fill="#fff"/><rect x="1148" y="177" width="1" height="77"/><rect x="1146" y="182" width="5" height="42"/><rect x="1156" y="196" width="1" height="43"/><rect x="1154" y="211" width="5" height="13"/><rect x="1155" y="212" width="3" height="11" fill="#fff"/><rect x="1164" y="187" width="1" height="43"/><rect x="1162" y="205" width="5" height="6"/><rect x="1163" y="206" width="3" height="4" fill="#fff"/><rect x="1172" y="204" width="1" height="8"/><rect x="1170" y="206" width="5" height="4"/><rect x="1180" y="200" width="1" height="55"/><rect x="1178" y="210" width="5" height="38"/><rect x="1188" y="233" width="1" height="54"/><rect x="1186" y="247" width="5" height="23"/><rect x="1196" y="259" width="1" height="33"/><rect x="1194" y="265" width="5" height="3"/><rect x="1195" y="266" width="3" height="1" fill="#fff"/><rect x="1204" y="262" width="1" height="61"/><rect x="1202" y="265" width="5" height="53"/><rect x="1212" y="262" width="1" height="65"/><rect x="1210" y="264" width="5" height="54"/><rect x="1211" y="265" width="3" height="52" fill="#fff"/><rect x="1220" y="257" width="1" height="8"/><rect x="1218" y="260" width="5" height="4"/><rect x="1219" y="261" width="3" height="2" fill="#fff"/><rect x="1228" y="248" width="1" height="33"/><rect x="1226" y="259" width="5" height="3"/><rect x="1227" y="260" width="3" height="1" fill="#fff"/><rect x="1236" y="211" width="1" height="50"/><rect x="1234" y="215" width="5" height="44"/><rect x="1235" y="216" width="3" height="42" fill="#fff"/><rect x="1244" y="195" width="1" height="25"/><rect x="1242" y="212" width="5" height="3"/><rect x="1243" y="213" width="3" height="1" fill="#fff"/><rect x="1252" y="190" width="1" height="27"/><rect x="1250" y="205" width="5" height="7"/><rect x="1251" y="206" width="3" height="5" fill="#fff"/><rect x="1260" y="202" width="1" height="37"/><rect x="1258" y="204" width="5" height="10"/><rect x="1268" y="208" width="1" height="4"/><rect x="1266" y="211" width="5" height="1"/><rect x="1276" y="194" width="1" height="21"/><rect x="1274" y="204" width="5" height="8"/><rect x="1275" y="205" width="3" height="6" fill="#fff"/><rect x="1284" y="177" width="1" height="59"/><rect x="1282" y="204" width="5" height="30"/><rect x="1292" y="226" width="1" height="53"/><rect x="1290" y="233" width="5" height="30"/><rect x="1300" y="227" width="1" height="43"/><rect x="1298" y="231" width="5" height="31"/><rect x="1299" y="232" width="3" height="29" fill="#fff"/><rect x="1308" y="195" width="1" height="43"/><rect x="1306" y="214" width="5" height="17"/><rect x="1307" y="215" width="3" height="15" fill="#fff"/><rect x="1316" y="204" width="1" height="12"/><rect x="1314" y="208" width="5" height="1"/><rect x="1324" y="177" width="1" height="55"/><rect x="1322" y="181" width="5" height="27"/><rect x="1323" y="182" width="3" height="25" fill="#fff"/><rect x="1332" y="170" width="1" height="32"/><rect x="1330" y="181" width="5" height="9"/><rect x="1340" y="173" width="1" height="47"/><rect x="1338" y="177" width="5" height="13"/><rect x="1339" y="178" width="3" height="11" fill="#fff"/><rect x="1348" y="127" width="1" height="61"/><rect x="1346" y="178" width="5" height="8"/><rect x="1356" y="167" width="1" height="77"/><rect x="1354" y="186" width="5" height="56"/><rect x="1364" y="231" width="1" height="15"/><rect x="1362" y="231" width="5" height="12"/><rect x="1363" y="232" width="3" height="10" fill="#fff"/><rect x="1372" y="230" width="1" height="46"/><rect x="1370" y="231" width="5" height="29"/><rect x="1380" y="229" width="1" height="70"/><rect x="1378" y="235" width="5" height="25"/><rect x="1379" y="236" width="3" height="23" fill="#fff"/><rect x="1388" y="216" width="1" height="48"/><rect x="1386" y="235" width="5" height="27"/><rect x="1396" y="251" width="1" height="70"/><rect x="1394" y="260" width="5" height="57"/><rect x="1404" y="316" width="1" height="51"/><rect x="1402" y="317" width="5" height="37"/><rect x="1412" y="335" width="1" height="16"/><rect x="1410" y="340" width="5" height="9"/><rect x="1411" y="341" width="3" height="7" fill="#fff"/><rect x="1420" y="340" width="1" height="61"/><rect x="1418" y="344" width="5" height="55"/></g>
</g>
<rect x="1324" y="381" width="170" height="7" fill="#00ee00" shape-rendering="crispEdges"/>
<rect x="77.5" y="277.5" width="61" height="18" fill="#fff" stroke="#ff0000" stroke-width="1" shape-rendering="crispEdges"/><text x="108.0" y="292.9" font-size="16" fill="#ff0000" text-anchor="middle" textLength="56.5" lengthAdjust="spacingAndGlyphs">1.20100</text>
<path d="M139,286.5L148,286.5" stroke="#ff0000" stroke-width="1" shape-rendering="crispEdges"/>
<rect x="517.5" y="559.5" width="61" height="18" fill="#fff" stroke="#ff0000" stroke-width="1" shape-rendering="crispEdges"/><text x="548.0" y="574.9" font-size="16" fill="#ff0000" text-anchor="middle" textLength="56.5" lengthAdjust="spacingAndGlyphs">1.15991</text>
<path d="M579,567.5L589,567.5" stroke="#ff0000" stroke-width="1" shape-rendering="crispEdges"/>
<rect x="933.5" y="47.5" width="61" height="18" fill="#fff" stroke="#ff0000" stroke-width="1" shape-rendering="crispEdges"/><text x="964.0" y="62.9" font-size="16" fill="#ff0000" text-anchor="middle" textLength="56.5" lengthAdjust="spacingAndGlyphs">1.23454</text>
<path d="M994,56.5L1004,56.5" stroke="#ff0000" stroke-width="1" shape-rendering="crispEdges"/>
<rect x="1277.5" y="118.5" width="61" height="18" fill="#fff" stroke="#ff0000" stroke-width="1" shape-rendering="crispEdges"/><text x="1308.0" y="133.9" font-size="16" fill="#ff0000" text-anchor="middle" textLength="56.5" lengthAdjust="spacingAndGlyphs">1.22418</text>
<path d="M1338,127.5L1348.5,127.5" stroke="#ff0000" stroke-width="1" shape-rendering="crispEdges"/>
<path d="M1348.5,127L1348.5,170" stroke="#000" stroke-width="1" shape-rendering="crispEdges"/>
<rect x="1141.5" y="319.5" width="61" height="18" fill="#fff" stroke="#ff0000" stroke-width="1" shape-rendering="crispEdges"/><text x="1172.0" y="334.9" font-size="16" fill="#ff0000" text-anchor="middle" textLength="56.5" lengthAdjust="spacingAndGlyphs">1.19494</text>
<path d="M1202,327.5L1213,327.5" stroke="#ff0000" stroke-width="1" shape-rendering="crispEdges"/>
<rect x="1333.5" y="358.5" width="61" height="18" fill="#fff" stroke="#ff0000" stroke-width="1" shape-rendering="crispEdges"/><text x="1364.0" y="373.9" font-size="16" fill="#ff0000" text-anchor="middle" textLength="56.5" lengthAdjust="spacingAndGlyphs">1.18922</text>
<path d="M1125,385.5L1133,385.5" stroke="#ff0000" stroke-width="1" shape-rendering="crispEdges"/>
<rect x="1132.5" y="383.5" width="3" height="4" fill="#fff" stroke="#ff0000" stroke-width="1"/>
<rect x="1135.5" y="373.5" width="73" height="24" fill="#fff" stroke="#ff0000" stroke-width="1" shape-rendering="crispEdges"/><text x="1172.0" y="393.1" font-size="19.5" fill="#ff0000" text-anchor="middle" textLength="70" lengthAdjust="spacingAndGlyphs">1.18660</text>
<path d="M1351.0,168.5L1434.5,406.5" stroke="#ff0000" stroke-width="3.5" fill="none"/><path d="M1437.5,415.0L1429.3,406.2L1438.4,403.0Z" fill="#ff0000"/>
<rect x="1509.5" y="367.5" width="110" height="24" fill="none" stroke="#404040" stroke-width="1"/>
<path d="M1509,367.5H1620" stroke="#40c8c8" stroke-width="1"/>
<rect x="1562.5" y="365.5" width="2" height="2" fill="#fff" stroke="#e040e0" stroke-width="1"/>
<text x="1511" y="386" font-size="20" fill="#00f400" textLength="105.5" lengthAdjust="spacing" style="font-family:&quot;Liberation Serif&quot;,&quot;Noto Serif CJK SC&quot;,serif;font-weight:300">多空转折点</text>
<g fill="#c0c0c0" shape-rendering="crispEdges"><rect x="4" y="618" width="1" height="85"/><rect x="12" y="623" width="1" height="80"/><rect x="20" y="625" width="1" height="78"/><rect x="28" y="626" width="1" height="77"/><rect x="36" y="627" width="1" height="76"/><rect x="44" y="627" width="1" height="76"/><rect x="52" y="623" width="1" height="80"/><rect x="60" y="628" width="1" height="75"/><rect x="68" y="631" width="1" height="72"/><rect x="76" y="639" width="1" height="64"/><rect x="84" y="646" width="1" height="57"/><rect x="92" y="652" width="1" height="51"/><rect x="100" y="655" width="1" height="48"/><rect x="108" y="657" width="1" height="46"/><rect x="116" y="661" width="1" height="42"/><rect x="124" y="659" width="1" height="44"/><rect x="132" y="657" width="1" height="46"/><rect x="140" y="654" width="1" height="49"/><rect x="148" y="654" width="1" height="49"/><rect x="156" y="659" width="1" height="44"/><rect x="164" y="664" width="1" height="39"/><rect x="172" y="667" width="1" height="36"/><rect x="180" y="672" width="1" height="31"/><rect x="188" y="677" width="1" height="26"/><rect x="196" y="684" width="1" height="19"/><rect x="204" y="689" width="1" height="14"/><rect x="212" y="690" width="1" height="13"/><rect x="220" y="691" width="1" height="12"/><rect x="228" y="691" width="1" height="12"/><rect x="236" y="689" width="1" height="14"/><rect x="244" y="690" width="1" height="13"/><rect x="252" y="693" width="1" height="10"/><rect x="260" y="693" width="1" height="10"/><rect x="268" y="693" width="1" height="10"/><rect x="276" y="693" width="1" height="10"/><rect x="284" y="699" width="1" height="4"/><rect x="292" y="703" width="1" height="3"/><rect x="300" y="703" width="1" height="13"/><rect x="308" y="703" width="1" height="20"/><rect x="316" y="703" width="1" height="28"/><rect x="324" y="703" width="1" height="34"/><rect x="332" y="703" width="1" height="34"/><rect x="340" y="703" width="1" height="30"/><rect x="348" y="703" width="1" height="28"/><rect x="356" y="703" width="1" height="24"/><rect x="364" y="703" width="1" height="23"/><rect x="372" y="703" width="1" height="22"/><rect x="380" y="703" width="1" height="16"/><rect x="388" y="703" width="1" height="14"/><rect x="396" y="703" width="1" height="11"/><rect x="404" y="703" width="1" height="8"/><rect x="412" y="703" width="1" height="2"/><rect x="420" y="702" width="1" height="1"/><rect x="428" y="698" width="1" height="5"/><rect x="436" y="701" width="1" height="2"/><rect x="444" y="703" width="1" height="1"/><rect x="452" y="703" width="1" height="3"/><rect x="460" y="703" width="1" height="5"/><rect x="468" y="703" width="1" height="7"/><rect x="476" y="703" width="1" height="3"/><rect x="484" y="702" width="1" height="1"/><rect x="492" y="696" width="1" height="7"/><rect x="500" y="694" width="1" height="9"/><rect x="508" y="689" width="1" height="14"/><rect x="516" y="687" width="1" height="16"/><rect x="524" y="687" width="1" height="16"/><rect x="532" y="690" width="1" height="13"/><rect x="540" y="693" width="1" height="10"/><rect x="548" y="702" width="1" height="1"/><rect x="556" y="703" width="1" height="7"/><rect x="564" y="703" width="1" height="14"/><rect x="572" y="703" width="1" height="19"/><rect x="580" y="703" width="1" height="15"/><rect x="588" y="703" width="1" height="14"/><rect x="596" y="702" width="1" height="1"/><rect x="604" y="701" width="1" height="2"/><rect x="612" y="692" width="1" height="11"/><rect x="620" y="690" width="1" height="13"/><rect x="628" y="689" width="1" height="14"/><rect x="636" y="691" width="1" height="12"/><rect x="644" y="691" width="1" height="12"/><rect x="652" y="689" width="1" height="14"/><rect x="660" y="687" width="1" height="16"/><rect x="668" y="685" width="1" height="18"/><rect x="676" y="683" width="1" height="20"/><rect x="684" y="683" width="1" height="20"/><rect x="692" y="681" width="1" height="22"/><rect x="700" y="681" width="1" height="22"/><rect x="708" y="681" width="1" height="22"/><rect x="716" y="682" width="1" height="21"/><rect x="724" y="680" width="1" height="23"/><rect x="732" y="677" width="1" height="26"/><rect x="740" y="675" width="1" height="28"/><rect x="748" y="671" width="1" height="32"/><rect x="756" y="667" width="1" height="36"/><rect x="764" y="667" width="1" height="36"/><rect x="772" y="658" width="1" height="45"/><rect x="780" y="649" width="1" height="54"/><rect x="788" y="640" width="1" height="63"/><rect x="796" y="634" width="1" height="69"/><rect x="804" y="632" width="1" height="71"/><rect x="812" y="631" width="1" height="72"/><rect x="820" y="632" width="1" height="71"/><rect x="828" y="635" width="1" height="68"/><rect x="836" y="634" width="1" height="69"/><rect x="844" y="636" width="1" height="67"/><rect x="852" y="637" width="1" height="66"/><rect x="860" y="637" width="1" height="66"/><rect x="868" y="638" width="1" height="65"/><rect x="876" y="637" width="1" height="66"/><rect x="884" y="632" width="1" height="71"/><rect x="892" y="630" width="1" height="73"/><rect x="900" y="631" width="1" height="72"/><rect x="908" y="632" width="1" height="71"/><rect x="916" y="635" width="1" height="68"/><rect x="924" y="640" width="1" height="63"/><rect x="932" y="644" width="1" height="59"/><rect x="940" y="647" width="1" height="56"/><rect x="948" y="649" width="1" height="54"/><rect x="956" y="648" width="1" height="55"/><rect x="964" y="646" width="1" height="57"/><rect x="972" y="650" width="1" height="53"/><rect x="980" y="651" width="1" height="52"/><rect x="988" y="653" width="1" height="50"/><rect x="996" y="652" width="1" height="51"/><rect x="1004" y="648" width="1" height="55"/><rect x="1012" y="651" width="1" height="52"/><rect x="1020" y="658" width="1" height="45"/><rect x="1028" y="665" width="1" height="38"/><rect x="1036" y="673" width="1" height="30"/><rect x="1044" y="677" width="1" height="26"/><rect x="1052" y="683" width="1" height="20"/><rect x="1060" y="689" width="1" height="14"/><rect x="1068" y="698" width="1" height="5"/><rect x="1076" y="703" width="1" height="3"/><rect x="1084" y="703" width="1" height="9"/><rect x="1092" y="703" width="1" height="9"/><rect x="1100" y="703" width="1" height="10"/><rect x="1108" y="703" width="1" height="8"/><rect x="1116" y="703" width="1" height="6"/><rect x="1124" y="703" width="1" height="4"/><rect x="1132" y="703" width="1" height="5"/><rect x="1140" y="703" width="1" height="5"/><rect x="1148" y="703" width="1" height="6"/><rect x="1156" y="703" width="1" height="7"/><rect x="1164" y="703" width="1" height="7"/><rect x="1172" y="703" width="1" height="7"/><rect x="1180" y="703" width="1" height="12"/><rect x="1188" y="703" width="1" height="17"/><rect x="1196" y="703" width="1" height="21"/><rect x="1204" y="703" width="1" height="29"/><rect x="1212" y="703" width="1" height="29"/><rect x="1220" y="703" width="1" height="29"/><rect x="1228" y="703" width="1" height="28"/><rect x="1236" y="703" width="1" height="23"/><rect x="1244" y="703" width="1" height="18"/><rect x="1252" y="703" width="1" height="13"/><rect x="1260" y="703" width="1" height="10"/><rect x="1268" y="703" width="1" height="8"/><rect x="1276" y="703" width="1" height="5"/><rect x="1284" y="703" width="1" height="6"/><rect x="1292" y="703" width="1" height="8"/><rect x="1300" y="703" width="1" height="8"/><rect x="1308" y="703" width="1" height="6"/><rect x="1316" y="703" width="1" height="4"/><rect x="1324" y="703" width="1" height="1"/><rect x="1332" y="699" width="1" height="4"/><rect x="1340" y="696" width="1" height="7"/><rect x="1348" y="694" width="1" height="9"/><rect x="1356" y="698" width="1" height="5"/><rect x="1364" y="702" width="1" height="1"/><rect x="1372" y="703" width="1" height="2"/><rect x="1380" y="703" width="1" height="4"/><rect x="1388" y="703" width="1" height="6"/><rect x="1396" y="703" width="1" height="13"/><rect x="1404" y="703" width="1" height="23"/><rect x="1412" y="703" width="1" height="31"/><rect x="1420" y="703" width="1" height="41"/></g>
<path d="M0.0,593.4C1.7,594.5 6.7,598.1 10.0,600.1C13.4,602.1 16.2,603.4 20.1,605.1C24.0,606.8 29.6,608.5 33.5,610.1C37.4,611.8 40.2,613.5 43.5,615.2C46.9,616.8 49.6,618.6 53.5,620.2C57.5,621.7 62.8,623.2 66.9,624.5C71.1,625.8 74.7,626.8 78.6,627.9C82.6,628.9 86.7,629.6 90.4,630.9C94.0,632.2 95.9,634.0 100.4,635.9C104.9,637.9 111.6,640.2 117.1,642.6C122.7,645.0 129.4,648.6 133.9,650.3C138.3,652.0 140.0,652.1 143.9,653.0C147.8,653.8 152.8,654.5 157.3,655.3C161.8,656.1 165.7,656.8 170.7,657.7C175.7,658.5 182.4,659.1 187.4,660.3C192.4,661.6 195.8,663.1 200.8,665.4C205.8,667.6 212.0,671.1 217.5,673.7C223.1,676.3 229.3,679.0 234.3,681.1C239.3,683.2 243.2,684.8 247.7,686.1C252.1,687.4 256.6,688.1 261.0,688.8C265.5,689.5 270.0,690.1 274.4,690.5C278.9,690.9 283.4,690.2 287.8,691.1C292.3,692.1 296.7,694.0 301.2,696.2C305.7,698.3 310.1,701.2 314.6,703.8C319.1,706.5 323.5,709.6 328.0,712.2C332.4,714.8 337.5,717.3 341.4,719.6C345.3,721.8 347.5,724.0 351.4,725.6C355.3,727.2 361.2,728.1 364.8,728.9C368.4,729.8 370.4,730.5 373.2,730.6C375.9,730.8 377.9,730.7 381.5,730.0C385.2,729.2 390.5,727.7 394.9,726.3C399.4,724.8 403.8,723.0 408.3,721.3C412.8,719.5 417.2,717.5 421.7,715.6C426.1,713.7 430.6,711.4 435.1,709.9C439.5,708.4 444.0,707.4 448.5,706.5C452.9,705.7 456.8,705.3 461.8,704.9C466.9,704.4 473.0,704.2 478.6,703.8C484.2,703.5 489.7,703.4 495.3,702.8C500.9,702.3 507.0,701.3 512.0,700.5C517.1,699.7 521.5,698.8 525.4,697.8C529.3,696.8 532.1,695.2 535.5,694.5C538.8,693.8 541.6,693.5 545.5,693.5C549.4,693.4 555.0,693.5 558.9,694.1C562.8,694.8 565.4,695.5 568.9,697.2C572.5,698.8 576.5,702.1 580.0,703.8C583.6,705.6 586.2,706.7 590.1,707.9C594.0,709.0 599.0,710.3 603.5,710.5C607.9,710.8 612.4,710.3 616.9,709.5C621.3,708.8 625.8,707.7 630.2,706.2C634.7,704.7 638.6,702.8 643.6,700.5C648.6,698.2 655.3,694.1 660.4,692.1C665.4,690.2 669.3,689.8 673.7,688.8C678.2,687.8 682.1,686.8 687.1,686.1C692.2,685.4 698.3,685.3 703.9,684.8C709.4,684.2 715.0,683.7 720.6,682.8C726.2,681.9 731.8,680.3 737.3,679.4C742.9,678.6 749.0,678.6 754.1,677.7C759.1,676.9 763.0,675.6 767.5,674.4C771.9,673.2 776.4,672.6 780.8,670.4C785.3,668.2 789.8,664.2 794.2,661.3C798.7,658.4 803.7,655.5 807.6,653.0C811.5,650.5 813.8,648.4 817.7,646.3C821.6,644.2 827.1,642.0 831.0,640.3C834.9,638.5 836.6,637.0 841.1,635.9C845.5,634.8 852.8,633.8 857.8,633.6C862.8,633.3 865.6,634.4 871.2,634.6C876.8,634.7 885.1,634.7 891.3,634.6C897.4,634.4 903.0,633.7 908.0,633.6C913.0,633.5 916.4,633.5 921.4,633.9C926.4,634.3 932.6,635.1 938.1,635.9C943.7,636.7 949.3,637.4 954.9,638.6C960.5,639.8 965.5,641.4 971.6,642.9C977.7,644.4 985.6,646.7 991.7,647.6C997.8,648.6 1002.8,647.9 1008.4,648.6C1014.0,649.4 1020.1,650.6 1025.2,652.0C1030.2,653.4 1034.1,655.6 1038.5,657.0C1043.0,658.4 1048.0,658.9 1051.9,660.3C1055.8,661.7 1058.6,663.3 1062.0,665.4C1065.3,667.4 1068.1,669.7 1072.0,672.7C1075.9,675.8 1080.9,680.4 1085.4,683.8C1089.9,687.1 1094.3,689.9 1098.8,692.8C1103.2,695.7 1108.3,699.1 1112.2,701.2C1116.1,703.3 1117.7,704.2 1122.2,705.5C1126.7,706.8 1133.1,708.0 1138.9,708.9C1144.8,709.8 1151.2,710.8 1157.1,710.9C1163.0,711.0 1169.1,709.3 1174.2,709.5C1179.4,709.7 1183.3,710.8 1187.9,711.9C1192.5,713.0 1197.0,714.6 1201.6,716.0C1206.2,717.4 1210.7,719.1 1215.3,720.4C1219.9,721.8 1224.4,722.9 1229.0,723.9C1233.5,724.8 1238.1,726.0 1242.7,726.3C1247.2,726.6 1251.8,726.1 1256.4,725.6C1260.9,725.1 1265.5,724.3 1270.0,723.2C1274.6,722.0 1278.6,720.5 1283.7,718.7C1288.9,717.0 1295.1,714.1 1300.8,712.6C1306.6,711.0 1312.8,710.5 1318.0,709.5C1323.1,708.5 1327.1,707.7 1331.6,706.8C1336.2,705.8 1340.2,704.9 1345.3,704.0C1350.5,703.2 1356.7,702.3 1362.5,701.6C1368.2,701.0 1374.4,700.4 1379.6,700.3C1384.7,700.1 1389.3,700.3 1393.3,700.9C1397.2,701.6 1400.1,702.8 1403.5,704.4C1406.9,705.9 1410.9,708.5 1413.8,710.2C1416.6,711.9 1419.5,713.9 1420.6,714.6" fill="none" stroke="#ff0000" stroke-width="1" stroke-dasharray="3,3" shape-rendering="crispEdges"/>
<path d="M3,790.5H1686" stroke="#c0c0c0" stroke-width="1" stroke-dasharray="3,3" shape-rendering="crispEdges"/>
<path d="M3,841.5H1686" stroke="#c0c0c0" stroke-width="1" stroke-dasharray="3,3" shape-rendering="crispEdges"/>
<path d="M3,902.5H1686" stroke="#c0c0c0" stroke-width="1" stroke-dasharray="3,3" shape-rendering="crispEdges"/>
<path d="M0.0,827.6L4.5,828.6L12.5,820.3L20.5,817.9L28.5,815.3L36.5,812.9L44.5,811.2L52.5,803.5L60.5,825.3L68.5,822.0L76.5,836.0L84.5,834.3L92.5,835.3L100.5,829.7L108.5,828.6L116.5,832.0L124.5,822.6L132.5,819.3L140.5,816.3L148.5,819.3L156.5,835.3L164.5,836.3L172.5,834.3L180.5,838.0L188.5,841.4L196.5,851.1L204.5,843.0L212.5,839.4L220.5,838.0L228.5,836.0L236.5,831.3L244.5,838.0L252.5,845.4L260.5,837.0L268.5,835.3L276.5,837.0L284.5,854.4L292.5,863.8L300.5,869.8L308.5,866.1L316.5,872.5L324.5,868.8L332.5,859.4L340.5,845.4L348.5,848.1L356.5,844.7L364.5,850.4L372.5,848.1L380.5,835.3L388.5,845.4L396.5,839.4L404.5,839.4L412.5,829.3L420.5,831.3L428.5,832.7L436.5,846.1L444.5,846.4L452.5,853.1L460.5,850.4L468.5,851.1L476.5,839.7L484.5,827.6L492.5,824.3L500.5,832.0L508.5,825.3L516.5,827.6L524.5,836.3L532.5,842.0L540.5,848.1L548.5,860.4L556.5,865.5L564.5,865.5L572.5,865.5L580.5,839.7L588.5,843.7L596.5,832.0L604.5,822.6L612.5,821.3L620.5,834.3L628.5,835.3L636.5,841.0L644.5,837.0L652.5,833.0L660.5,831.3L668.5,828.6L676.5,828.6L684.5,832.0L692.5,828.6L700.5,830.3L708.5,829.7L716.5,835.3L724.5,824.3L732.5,821.3L740.5,822.0L748.5,813.6L756.5,811.9L764.5,822.0L772.5,804.2L780.5,800.2L788.5,797.2L796.5,799.2L804.5,804.2L812.5,807.6L820.5,807.6L828.5,816.9L836.5,807.6L844.5,816.3L852.5,812.9L860.5,811.2L868.5,810.2L876.5,804.2L884.5,797.5L892.5,802.9L900.5,811.9L908.5,809.6L916.5,822.0L924.5,821.3L932.5,823.0L940.5,820.3L948.5,817.6L956.5,812.9L964.5,805.9L972.5,827.6L980.5,822.0L988.5,822.0L996.5,815.3L1004.5,810.9L1012.5,827.0L1020.5,838.0L1028.5,843.0L1036.5,847.1L1044.5,838.7L1052.5,846.4L1060.5,848.7L1068.5,858.8L1076.5,861.4L1084.5,858.1L1092.5,846.4L1100.5,850.4L1108.5,840.4L1116.5,840.4L1124.5,840.4L1132.5,845.4L1140.5,840.7L1148.5,852.0L1156.5,848.2L1164.5,846.5L1172.5,848.6L1180.5,858.5L1188.5,862.9L1196.5,862.3L1204.5,873.2L1212.5,855.1L1220.5,853.4L1228.5,853.4L1236.5,839.7L1244.5,839.7L1252.5,836.2L1260.5,840.0L1268.5,839.7L1276.5,836.2L1284.5,846.5L1292.5,855.1L1300.5,844.1L1308.5,839.0L1316.5,837.3L1324.5,829.4L1332.5,832.8L1340.5,828.7L1348.5,832.1L1356.5,850.3L1364.5,847.5L1372.5,855.1L1380.5,849.2L1388.5,854.4L1396.5,866.4L1404.5,873.2L1412.5,870.5L1420.5,877.7" fill="none" stroke="#1e90ff" stroke-width="1" stroke-linejoin="round" shape-rendering="crispEdges"/>
<path d="M1367.5,688.4L1417.9,731.3" stroke="#ff0000" stroke-width="3" fill="none"/><path d="M1424.0,736.5L1413.5,733.4L1419.3,726.6Z" fill="#ff0000"/>
<path d="M1342.0,825.3L1406.2,864.6" stroke="#ff0000" stroke-width="3" fill="none"/><path d="M1413.0,868.8L1402.1,867.4L1406.8,859.7Z" fill="#ff0000"/>
<g fill="#000" shape-rendering="crispEdges">
<rect x="0" y="27" width="1687" height="1"/>
<rect x="1686" y="27" width="1" height="902"/>
<rect x="0" y="580" width="1687" height="1"/><rect x="0" y="582" width="1687" height="1"/>
<rect x="0" y="752" width="1687" height="1"/><rect x="0" y="754" width="1687" height="1"/>
<rect x="0" y="928" width="1687" height="1"/>
<rect x="1687" y="49" width="2" height="1"/>
<rect x="1687" y="82" width="2" height="1"/>
<rect x="1687" y="115" width="2" height="1"/>
<rect x="1687" y="148" width="2" height="1"/>
<rect x="1687" y="181" width="2" height="1"/>
<rect x="1687" y="214" width="2" height="1"/>
<rect x="1687" y="247" width="2" height="1"/>
<rect x="1687" y="280" width="2" height="1"/>
<rect x="1687" y="312" width="2" height="1"/>
<rect x="1687" y="346" width="2" height="1"/>
<rect x="1687" y="379" width="2" height="1"/>
<rect x="1687" y="412" width="2" height="1"/>
<rect x="1687" y="445" width="2" height="1"/>
<rect x="1687" y="477" width="2" height="1"/>
<rect x="1687" y="510" width="2" height="1"/>
<rect x="1687" y="543" width="2" height="1"/>
<rect x="1687" y="577" width="2" height="1"/>
<rect x="1687" y="702" width="1" height="1"/>
<rect x="1687" y="584" width="1" height="1"/>
<rect x="1687" y="751" width="1" height="1"/>
<rect x="1687" y="756" width="1" height="1"/>
<rect x="1686" y="581" width="1" height="1" fill="#fff"/><rect x="1686" y="753" width="1" height="1" fill="#fff"/>
<rect x="60" y="929" width="1" height="3"/>
<rect x="124" y="929" width="1" height="3"/>
<rect x="188" y="929" width="1" height="3"/>
<rect x="252" y="929" width="1" height="3"/>
<rect x="316" y="929" width="1" height="3"/>
<rect x="380" y="929" width="1" height="3"/>
<rect x="444" y="929" width="1" height="3"/>
<rect x="508" y="929" width="1" height="3"/>
<rect x="572" y="929" width="1" height="3"/>
<rect x="636" y="929" width="1" height="3"/>
<rect x="700" y="929" width="1" height="3"/>
<rect x="764" y="929" width="1" height="3"/>
<rect x="828" y="929" width="1" height="3"/>
<rect x="892" y="929" width="1" height="3"/>
<rect x="956" y="929" width="1" height="3"/>
<rect x="1020" y="929" width="1" height="3"/>
<rect x="1084" y="929" width="1" height="3"/>
<rect x="1148" y="929" width="1" height="3"/>
<rect x="1212" y="929" width="1" height="3"/>
<rect x="1276" y="929" width="1" height="3"/>
<rect x="1340" y="929" width="1" height="3"/>
<rect x="1404" y="929" width="1" height="3"/>
</g>
<g fill="#000" stroke="#000" stroke-width="0.15">
<text transform="translate(1692.6,53.06) rotate(0.03) scale(0.9308,1)" font-size="9.6">1.23560</text>
<text transform="translate(1692.6,86.06) rotate(0.03) scale(0.9308,1)" font-size="9.6">1.23080</text>
<text transform="translate(1692.6,119.06) rotate(0.03) scale(0.9308,1)" font-size="9.6">1.22600</text>
<text transform="translate(1692.6,152.06) rotate(0.03) scale(0.9308,1)" font-size="9.6">1.22110</text>
<text transform="translate(1692.6,185.06) rotate(0.03) scale(0.9308,1)" font-size="9.6">1.21630</text>
<text transform="translate(1692.6,218.06) rotate(0.03) scale(0.9308,1)" font-size="9.6">1.21150</text>
<text transform="translate(1692.6,251.06) rotate(0.03) scale(0.9308,1)" font-size="9.6">1.20670</text>
<text transform="translate(1692.6,284.06) rotate(0.03) scale(0.9308,1)" font-size="9.6">1.20190</text>
<text transform="translate(1692.6,316.06) rotate(0.03) scale(0.9308,1)" font-size="9.6">1.19710</text>
<text transform="translate(1692.6,350.06) rotate(0.03) scale(0.9308,1)" font-size="9.6">1.19220</text>
<text transform="translate(1692.6,383.06) rotate(0.03) scale(0.9308,1)" font-size="9.6">1.18740</text>
<text transform="translate(1692.6,416.06) rotate(0.03) scale(0.9308,1)" font-size="9.6">1.18260</text>
<text transform="translate(1692.6,449.06) rotate(0.03) scale(0.9308,1)" font-size="9.6">1.17780</text>
<text transform="translate(1692.6,481.06) rotate(0.03) scale(0.9308,1)" font-size="9.6">1.17300</text>
<text transform="translate(1692.6,514.06) rotate(0.03) scale(0.9308,1)" font-size="9.6">1.16820</text>
<text transform="translate(1692.6,547.06) rotate(0.03) scale(0.9308,1)" font-size="9.6">1.16340</text>
<text transform="translate(1692.6,581.06) rotate(0.03) scale(0.9308,1)" font-size="9.6">1.15850</text>
<text transform="translate(1690.1,592.85) rotate(0.03) scale(0.9415,1)" font-size="9.6">0.013835</text>
<text transform="translate(1690.1,705.7) rotate(0.03) scale(0.9579,1)" font-size="9.6">0.00</text>
<text transform="translate(1690.1,748.9) rotate(0.03) scale(0.9343,1)" font-size="9.6">-0.005861</text>
<text transform="translate(1690.3,764.75) rotate(0.03) scale(0.9178,1)" font-size="9.6">100</text>
<text transform="translate(1690.3,793.7) rotate(0.03) scale(0.9084,1)" font-size="9.6">80</text>
<text transform="translate(1690.3,844.6) rotate(0.03) scale(0.9084,1)" font-size="9.6">50</text>
<text transform="translate(1690.3,905.5) rotate(0.03) scale(0.9084,1)" font-size="9.6">15</text>
<text transform="translate(1690.3,924.4) rotate(0.03) scale(0.9178,1)" font-size="9.6">0</text>
</g>
<rect x="1688" y="344" width="41" height="11" fill="#ff0000" shape-rendering="crispEdges"/>
<text transform="translate(1692.6,353) rotate(0.03) scale(0.9308,1)" font-size="9.6" fill="#fff" stroke="#fff" stroke-width="0.15">1.19170</text>
<rect x="1688" y="361" width="41" height="11" fill="#ff0000" shape-rendering="crispEdges"/>
<text transform="translate(1692.6,370) rotate(0.03) scale(0.9308,1)" font-size="9.6" fill="#fff" stroke="#fff" stroke-width="0.15">1.18922</text>
<rect x="1688" y="379" width="41" height="11" fill="#ffa500" shape-rendering="crispEdges"/>
<text transform="translate(1692.6,388) rotate(0.03) scale(0.9308,1)" font-size="9.6" fill="#fff" stroke="#fff" stroke-width="0.15">1.18660</text>
<rect x="1688" y="394" width="41" height="11" fill="#000000" shape-rendering="crispEdges"/>
<text transform="translate(1692.6,403) rotate(0.03) scale(0.9308,1)" font-size="9.6" fill="#fff" stroke="#fff" stroke-width="0.15">1.18459</text>
<rect x="1688" y="414" width="41" height="11" fill="#0000ff" shape-rendering="crispEdges"/>
<text transform="translate(1692.6,423) rotate(0.03) scale(0.9308,1)" font-size="9.6" fill="#fff" stroke="#fff" stroke-width="0.15">1.18150</text>
<rect x="1688" y="435" width="41" height="11" fill="#0000ff" shape-rendering="crispEdges"/>
<text transform="translate(1692.6,444) rotate(0.03) scale(0.9308,1)" font-size="9.6" fill="#fff" stroke="#fff" stroke-width="0.15">1.17845</text>
<rect x="1681.5" y="365.5" width="4" height="4" fill="#fff" stroke="#ff0000" stroke-width="1" shape-rendering="crispEdges"/>
<rect x="1681.5" y="418.5" width="4" height="4" fill="#fff" stroke="#0000ff" stroke-width="1" shape-rendering="crispEdges"/>
<rect x="1681.5" y="439.5" width="4" height="4" fill="#fff" stroke="#0000ff" stroke-width="1" shape-rendering="crispEdges"/>
<rect x="0" y="366" width="2" height="3" fill="#ff0000" shape-rendering="crispEdges"/>
<rect x="0" y="419" width="2" height="3" fill="#0000ff" shape-rendering="crispEdges"/>
<rect x="0" y="440" width="2" height="3" fill="#0000ff" shape-rendering="crispEdges"/>
<path d="M1427,28H1438L1432.5,33.5Z" fill="#b0b0b0"/>
<g font-size="9.6" fill="#000" stroke="#000" stroke-width="0.15">
<text transform="translate(-4.7,940.75) rotate(0.03) scale(0.969,1)">10 Aug 2020</text>
<text transform="translate(59.3,940.75) rotate(0.03) scale(0.969,1)">19 Aug 2020</text>
<text transform="translate(123.3,940.75) rotate(0.03) scale(0.969,1)">28 Aug 2020</text>
<text transform="translate(187.3,940.75) rotate(0.03) scale(0.969,1)">7 Sep 2020</text>
<text transform="translate(251.3,940.75) rotate(0.03) scale(0.969,1)">16 Sep 2020</text>
<text transform="translate(315.3,940.75) rotate(0.03) scale(0.969,1)">25 Sep 2020</text>
<text transform="translate(379.3,940.75) rotate(0.03) scale(0.969,1)">5 Oct 2020</text>
<text transform="translate(443.3,940.75) rotate(0.03) scale(0.969,1)">14 Oct 2020</text>
<text transform="translate(507.3,940.75) rotate(0.03) scale(0.969,1)">23 Oct 2020</text>
<text transform="translate(571.3,940.75) rotate(0.03) scale(0.969,1)">2 Nov 2020</text>
<text transform="translate(635.3,940.75) rotate(0.03) scale(0.969,1)">11 Nov 2020</text>
<text transform="translate(699.3,940.75) rotate(0.03) scale(0.969,1)">20 Nov 2020</text>
<text transform="translate(763.3,940.75) rotate(0.03) scale(0.969,1)">30 Nov 2020</text>
<text transform="translate(827.3,940.75) rotate(0.03) scale(0.969,1)">9 Dec 2020</text>
<text transform="translate(891.3,940.75) rotate(0.03) scale(0.969,1)">18 Dec 2020</text>
<text transform="translate(955.3,940.75) rotate(0.03) scale(0.969,1)">29 Dec 2020</text>
<text transform="translate(1019.3,940.75) rotate(0.03) scale(0.969,1)">8 Jan 2021</text>
<text transform="translate(1083.3,940.75) rotate(0.03) scale(0.969,1)">18 Jan 2021</text>
<text transform="translate(1147.3,940.75) rotate(0.03) scale(0.969,1)">27 Jan 2021</text>
<text transform="translate(1211.3,940.75) rotate(0.03) scale(0.969,1)">5 Feb 2021</text>
<text transform="translate(1275.3,940.75) rotate(0.03) scale(0.969,1)">15 Feb 2021</text>
<text transform="translate(1339.3,940.75) rotate(0.03) scale(0.969,1)">24 Feb 2021</text>
<text transform="translate(1403.3,940.75) rotate(0.03) scale(0.969,1)">5 Mar 2021</text>
</g>
<text transform="translate(0.5,595) rotate(0.03) scale(0.9627,1)" font-size="9.6" fill="#000" stroke="#000" stroke-width="0.15">MACD(12,26,9) -0.004966 -0.001631</text>
<text transform="translate(0.5,767) rotate(0.03) scale(0.9510,1)" font-size="9.6" fill="#000" stroke="#000" stroke-width="0.15">RSI(14) 28.5412</text>
<path d="M0,38H6L3,34Z" fill="#000"/>
<text transform="translate(11.3,38.7) rotate(0.03) scale(0.9803,1)" font-size="9.6" fill="#000" stroke="#000" stroke-width="0.15">EURUSD-,Daily</text>
<text transform="translate(84.8,38.7) rotate(0.03) scale(0.9508,1)" font-size="9.6" fill="#000" stroke="#000" stroke-width="0.15">1.19252 1.19315 1.18442 1.18459</text>
<rect x="0" y="47" width="51" height="25" fill="url(#gt)"/>
<rect x="166" y="47" width="52" height="25" fill="url(#gt)"/>
<rect x="0" y="71" width="108" height="40" fill="url(#gb)"/>
<rect x="110" y="71" width="108" height="40" fill="url(#gb)"/>
<rect x="3" y="70" width="44" height="1" fill="#9a9aff"/>
<rect x="170" y="70" width="44" height="1" fill="#9a9aff"/>
<rect x="51" y="47" width="115" height="24" fill="#e8e8e8"/>
<rect x="53.5" y="47.5" width="110" height="21" fill="#fff" stroke="#b8b8b8"/>
<rect x="54.5" y="48.5" width="19" height="19" fill="url(#gs)" stroke="#c0c0c0"/>
<rect x="143.5" y="48.5" width="19" height="19" fill="url(#gs)" stroke="#c0c0c0"/>
<path d="M61.5,56H66.5L64,59Z" fill="#5060b0"/><path d="M150.5,59H155.5L153,56Z" fill="#5060b0"/>
<text x="139" y="62.5" font-size="13" fill="#000" text-anchor="end">1.00</text>
<text x="24.3" y="63" font-size="12" fill="#fff" text-anchor="middle" textLength="25" lengthAdjust="spacingAndGlyphs">SELL</text>
<text x="191.3" y="63" font-size="12" fill="#fff" text-anchor="middle" textLength="23.5" lengthAdjust="spacingAndGlyphs">BUY</text>
<g fill="#fff">
<text x="19.4" y="101.7" font-size="11.5" font-weight="bold" textLength="23.5" lengthAdjust="spacingAndGlyphs">1.18</text>
<text x="46" y="101.7" font-size="32" textLength="34.5" lengthAdjust="spacingAndGlyphs">45</text>
<text x="86.5" y="85.7" font-size="11" font-weight="bold">9</text>
<text x="129.5" y="101.7" font-size="11.5" font-weight="bold" textLength="23.5" lengthAdjust="spacingAndGlyphs">1.18</text>
<text x="156.5" y="101.7" font-size="32" textLength="35.5" lengthAdjust="spacingAndGlyphs">47</text>
<text x="197.3" y="85.7" font-size="11" font-weight="bold">6</text>
</g>
<rect x="0" y="0" width="1733" height="23" fill="#f0f0f0"/><rect x="0" y="22" width="1733" height="1" fill="#f5f5f5"/>
<rect x="0" y="23" width="1733" height="1" fill="#a8a8a8"/><rect x="0" y="24" width="1733" height="1" fill="#696969"/>
<rect x="322" y="0" width="24" height="22" fill="#f9f9f9"/><rect x="474" y="0" width="24" height="22" fill="#f9f9f9"/><rect x="502" y="0" width="24" height="22" fill="#f9f9f9"/><rect x="662" y="0" width="24" height="22" fill="#f9f9f9"/><rect x="1136.5" y="0" width="23.5" height="22" fill="#f9f9f9"/><rect x="47" y="0" width="1" height="21" fill="#a0a0a0"/><rect x="321" y="0" width="1" height="21" fill="#a0a0a0"/><rect x="378" y="0" width="1" height="21" fill="#a0a0a0"/><rect x="468" y="0" width="1" height="21" fill="#a0a0a0"/><rect x="473" y="0" width="1" height="21" fill="#a0a0a0"/><rect x="501" y="0" width="1" height="21" fill="#a0a0a0"/><rect x="530" y="0" width="1" height="21" fill="#a0a0a0"/><rect x="651" y="0" width="1" height="21" fill="#a0a0a0"/><rect x="661" y="0" width="1" height="21" fill="#a0a0a0"/><rect x="718" y="0" width="1" height="21" fill="#a0a0a0"/><rect x="957" y="0" width="1" height="21" fill="#a0a0a0"/><rect x="1135" y="0" width="1" height="21" fill="#a0a0a0"/><rect x="1218" y="0" width="1" height="21" fill="#a0a0a0"/><rect x="286.5" y="1" width="3.5" height="1" fill="#a8a8a8"/><rect x="286.5" y="3" width="3.5" height="1" fill="#a8a8a8"/><rect x="286.5" y="5" width="3.5" height="1" fill="#a8a8a8"/><rect x="286.5" y="7" width="3.5" height="1" fill="#a8a8a8"/><rect x="286.5" y="9" width="3.5" height="1" fill="#a8a8a8"/><rect x="286.5" y="11" width="3.5" height="1" fill="#a8a8a8"/><rect x="286.5" y="13" width="3.5" height="1" fill="#a8a8a8"/><rect x="286.5" y="15" width="3.5" height="1" fill="#a8a8a8"/><rect x="286.5" y="17" width="3.5" height="1" fill="#a8a8a8"/><rect x="286.5" y="19" width="3.5" height="1" fill="#a8a8a8"/><rect x="655" y="1" width="3.5" height="1" fill="#a8a8a8"/><rect x="655" y="3" width="3.5" height="1" fill="#a8a8a8"/><rect x="655" y="5" width="3.5" height="1" fill="#a8a8a8"/><rect x="655" y="7" width="3.5" height="1" fill="#a8a8a8"/><rect x="655" y="9" width="3.5" height="1" fill="#a8a8a8"/><rect x="655" y="11" width="3.5" height="1" fill="#a8a8a8"/><rect x="655" y="13" width="3.5" height="1" fill="#a8a8a8"/><rect x="655" y="15" width="3.5" height="1" fill="#a8a8a8"/><rect x="655" y="17" width="3.5" height="1" fill="#a8a8a8"/><rect x="655" y="19" width="3.5" height="1" fill="#a8a8a8"/><rect x="961" y="1" width="3.5" height="1" fill="#a8a8a8"/><rect x="961" y="3" width="3.5" height="1" fill="#a8a8a8"/><rect x="961" y="5" width="3.5" height="1" fill="#a8a8a8"/><rect x="961" y="7" width="3.5" height="1" fill="#a8a8a8"/><rect x="961" y="9" width="3.5" height="1" fill="#a8a8a8"/><rect x="961" y="11" width="3.5" height="1" fill="#a8a8a8"/><rect x="961" y="13" width="3.5" height="1" fill="#a8a8a8"/><rect x="961" y="15" width="3.5" height="1" fill="#a8a8a8"/><rect x="961" y="17" width="3.5" height="1" fill="#a8a8a8"/><rect x="961" y="19" width="3.5" height="1" fill="#a8a8a8"/><rect x="283" y="0" width="1" height="22" fill="#c8c8c8"/><rect x="-3" y="4.5" width="12.5" height="13" rx="1.5" fill="#fff" stroke="#4a86d8" stroke-width="1.3"/><path d="M0,8.5H8M0,10.5H8M0,12.5H8" stroke="#c8dcf4" stroke-width="1"/><path d="M5.6,8.6L7.3,10.5L5.6,12.4L3.9,10.5Z" fill="#222"/><circle cx="5.6" cy="10.5" r="0.6" fill="#fff"/><rect x="22.5" y="3.5" width="12" height="13" fill="#fafafa" stroke="#b0b0b0"/><path d="M25.5,6V12M24.5,8H25.5M28.5,5V11M28.5,7H29.5M31.5,6V12M30.5,9H31.5" stroke="#777" stroke-width="1" fill="none"/><circle cx="30" cy="11.5" r="4.6" fill="#cfe2f6" fill-opacity="0.85" stroke="#7aa4dc" stroke-width="1.2"/><path d="M33.5,15L38.5,19.5" stroke="#c89a28" stroke-width="2.4" stroke-linecap="round"/><path d="M57.5,3.5H65.0L68.5,7.0V16.5H57.5Z" fill="#fdfdfd" stroke="#6c6c6c" stroke-width="1"/><path d="M65.0,3.5V7.0H68.5" fill="#e4e4e4" stroke="#6c6c6c" stroke-width="0.8"/><path d="M59.5,6.5H62.5M59.5,9.0H65.5M59.5,11.5H63.5" stroke="#8a8a8a" stroke-width="1"/><path d="M65.8,9.5H69.2V13.3H73.0V16.7H69.2V20.5H65.8V16.7H62.0V13.3H65.8Z" fill="#2ecc2e" stroke="#0c8c0c" stroke-width="1" stroke-linejoin="round"/><path d="M67.0,10.5V14.5H63.0" stroke="#9af09a" stroke-width="1" fill="none"/><text class="cjk" x="75.5" y="14.6" font-size="12" fill="#000" textLength="36.5" lengthAdjust="spacing">新订单</text><defs><linearGradient id="gg" x1="0" y1="0" x2="1" y2="1"><stop offset="0" stop-color="#fff2a8"/><stop offset="0.55" stop-color="#e6b62a"/><stop offset="1" stop-color="#c89418"/></linearGradient><linearGradient id="gc" x1="0" y1="0" x2="0" y2="1"><stop offset="0" stop-color="#ffffff"/><stop offset="1" stop-color="#bcc8de"/></linearGradient><linearGradient id="gy" x1="0" y1="0" x2="1" y2="1"><stop offset="0" stop-color="#fff48a"/><stop offset="1" stop-color="#e4b018"/></linearGradient><radialGradient id="gr" cx="0.5" cy="0.5" r="0.5"><stop offset="0.3" stop-color="#58b058" stop-opacity="0.55"/><stop offset="1" stop-color="#58b058" stop-opacity="0.05"/></radialGradient></defs><path d="M124.1,13.2L131.9,19.8L140.6,12.8L140,11.2L131.8,17.6L124.2,12.2Z" fill="#a8741a"/><path d="M125,13.6L131.9,18.6L139.6,12.4" stroke="#f0dca0" stroke-width="0.7" fill="none"/><path d="M129.6,4.2L140,11.6L131.9,17.8L124.1,12.6C125.5,10 127.5,6.5 129.6,4.2Z" fill="url(#gg)" stroke="#9a6c14" stroke-width="0.8" stroke-linejoin="round"/><path d="M154.2,3.6L163.2,3.2L164.6,4.9L156.8,5.8Z" fill="#8cc8ff"/><path d="M154.2,3.6L156.8,5.8V12.5L154.2,11Z" fill="#48a8ff"/><path d="M156.8,5.6L164.6,4.9V13H156.8Z" fill="#1c7cf0"/><path d="M158.6,7.8L163.2,7.2V8.6L158.6,9.1ZM158.6,10L163.2,9.7V10.8L158.6,11Z" fill="#9cd0ff"/><path d="M154.6,18.6a3,3 0 0 1 0.2,-5.8a3.2,3.2 0 0 1 5.6,-1.2a3.2,3.2 0 0 1 4.6,1.6a2.8,2.8 0 0 1 0.2,5.4Z" fill="url(#gc)" stroke="#4c6cb0" stroke-width="0.9"/><circle cx="188.1" cy="10.3" r="7.9" fill="url(#gr)"/><path d="M188.1,2.4A7.9,7.9 0 0 0 188.1,18.2Z" fill="#f0f0f0"/><path d="M188.1,2.6A7.7,7.7 0 0 0 188.1,18" fill="none" stroke="#7c9ce4" stroke-width="1"/><path d="M188.1,5A5.3,5.3 0 0 0 188.1,15.6" fill="none" stroke="#3a68d4" stroke-width="1"/><path d="M188.1,7.4A2.9,2.9 0 0 0 188.1,13.2" fill="none" stroke="#3a68d4" stroke-width="0.9"/><path d="M188.1,2.6A7.7,7.7 0 0 1 188.1,18M188.1,5A5.3,5.3 0 0 1 188.1,15.6" fill="none" stroke="#6cb46c" stroke-width="1"/><path d="M188.6,10.5V18.8" stroke="#20b020" stroke-width="1.8"/><circle cx="188" cy="10.2" r="1.9" fill="#2454cc"/><path d="M207.6,10.6L222.6,9.6L215.6,18.9Z" fill="url(#gy)" stroke="#d0a020" stroke-width="0.8" stroke-linejoin="round"/><path d="M207.2,8.6C207,6.6 210,7.6 211.6,7.2C211.2,2.6 218.8,2.6 218.6,7C220.4,7.4 223,6 222.9,8.2C222.6,10.6 207.6,11.2 207.2,8.6Z" fill="#58a8dc" stroke="#2c74ac" stroke-width="0.8"/><path d="M212.4,5.6C213.4,3.6 216.6,3.6 217.6,5.4" stroke="#a8dcf8" stroke-width="1" fill="none"/><circle cx="219.5" cy="14.7" r="4" fill="#e02414" stroke="#a81408" stroke-width="0.7"/><rect x="218.1" y="13.3" width="2.8" height="2.8" fill="#fff"/><text class="cjk" x="228.3" y="14.6" font-size="12" fill="#000" textLength="47" lengthAdjust="spacing">自动交易</text><path d="M301.3,5.5V19M298.8,16.5H312.3" stroke="#555" stroke-width="1.2" fill="none"/><path d="M299.6,7.2L301.3,4.6L303.0,7.2ZM310.8,14.8L313.2,16.5L310.8,18.2Z" fill="#555"/><path d="M308.5,6.8V14M308.5,7.3H310.2M305.4,13.5H308.5" stroke="#1a9a1a" stroke-width="1.3" fill="none"/><path d="M329.4,5.5V19M326.9,16.5H340.4" stroke="#555" stroke-width="1.2" fill="none"/><path d="M327.7,7.2L329.4,4.6L331.09999999999997,7.2ZM338.9,14.8L341.29999999999995,16.5L338.9,18.2Z" fill="#555"/><path d="M335.5,3.2V14.8" stroke="#1a9a1a" stroke-width="1.2"/><rect x="333.3" y="5.4" width="4.4" height="7.4" fill="#38d838" stroke="#1a9a1a" stroke-width="1"/><path d="M357.4,5.5V19M354.9,16.5H368.4" stroke="#555" stroke-width="1.2" fill="none"/><path d="M355.7,7.2L357.4,4.6L359.09999999999997,7.2ZM366.9,14.8L369.29999999999995,16.5L366.9,18.2Z" fill="#555"/><path d="M356.8,13.8C359,11 360.5,8 362.5,8.2S366,11.5 367.6,12.2" stroke="#1a9a1a" stroke-width="1.3" fill="none"/><path d="M396.8,13.2L401.8,18.2" stroke="#8a6a10" stroke-width="3.4" stroke-linecap="round"/><path d="M397.0,13.4L401.6,18" stroke="#e8c848" stroke-width="2" stroke-linecap="round"/><circle cx="392.8" cy="9.1" r="5.6" fill="#d4e8fa" stroke="#3c82d4" stroke-width="1.3"/><path d="M389.8,9.1H395.8" stroke="#4878a8" stroke-width="1.8"/><path d="M392.8,6.1V12.1" stroke="#4878a8" stroke-width="1.8"/><path d="M425.1,13.2L430.1,18.2" stroke="#8a6a10" stroke-width="3.4" stroke-linecap="round"/><path d="M425.3,13.4L429.90000000000003,18" stroke="#e8c848" stroke-width="2" stroke-linecap="round"/><circle cx="421.1" cy="9.1" r="5.6" fill="#d4e8fa" stroke="#3c82d4" stroke-width="1.3"/><path d="M418.1,9.1H424.1" stroke="#4878a8" stroke-width="1.8"/><rect x="443.3" y="3.2" width="7.6" height="7.6" rx="0.8" fill="#4aa81c" stroke="#2c7c0c" stroke-width="0.6"/><rect x="444.6" y="6.2" width="5" height="1.2" fill="#fff" opacity="0.9"/><rect x="444.6" y="8.2" width="5" height="1.6" fill="#fff" opacity="0.85"/><rect x="444.3" y="4.2" width="1" height="1" fill="#fff" opacity="0.8"/><rect x="451.3" y="3.2" width="7.6" height="7.6" rx="0.8" fill="#2c5cd8" stroke="#1438a0" stroke-width="0.6"/><rect x="452.6" y="6.2" width="5" height="1.2" fill="#fff" opacity="0.9"/><rect x="452.6" y="8.2" width="5" height="1.6" fill="#fff" opacity="0.85"/><rect x="452.3" y="4.2" width="1" height="1" fill="#fff" opacity="0.8"/><rect x="443.3" y="11.2" width="7.6" height="7.6" rx="0.8" fill="#2c5cd8" stroke="#1438a0" stroke-width="0.6"/><rect x="444.6" y="14.2" width="5" height="1.2" fill="#fff" opacity="0.9"/><rect x="444.6" y="16.2" width="5" height="1.6" fill="#fff" opacity="0.85"/><rect x="444.3" y="12.2" width="1" height="1" fill="#fff" opacity="0.8"/><rect x="451.3" y="11.2" width="7.6" height="7.6" rx="0.8" fill="#4aa81c" stroke="#2c7c0c" stroke-width="0.6"/><rect x="452.6" y="14.2" width="5" height="1.2" fill="#fff" opacity="0.9"/><rect x="452.6" y="16.2" width="5" height="1.6" fill="#fff" opacity="0.85"/><rect x="452.3" y="12.2" width="1" height="1" fill="#fff" opacity="0.8"/><path d="M481.5,5.5V19M479,16.5H492.5" stroke="#555" stroke-width="1.2" fill="none"/><path d="M479.8,7.2L481.5,4.6L483.2,7.2ZM491,14.8L493.4,16.5L491,18.2Z" fill="#555"/><path d="M486.5,7.4L490,10.4L486.5,13.4Z" fill="#d8f4d8" stroke="#22a022" stroke-width="1.1" stroke-linejoin="round"/><path d="M509.5,5.5V19M507,16.5H520.5" stroke="#555" stroke-width="1.2" fill="none"/><path d="M507.8,7.2L509.5,4.6L511.2,7.2ZM519,14.8L521.4,16.5L519,18.2Z" fill="#555"/><path d="M515.6,4.8V15" stroke="#1c6ca8" stroke-width="1.3"/><path d="M517,10.4H521.2" stroke="#d03808" stroke-width="1.2"/><path d="M516.4,10.4L519,8.3V12.5Z" fill="#d03808"/><path d="M540.5,3.8H548.0L551.5,7.3V16.8H540.5Z" fill="#fdfdfd" stroke="#6c6c6c" stroke-width="1"/><path d="M548.0,3.8V7.3H551.5" fill="#e4e4e4" stroke="#6c6c6c" stroke-width="0.8"/><path d="M542.5,6.8H545.5M542.5,9.3H548.5M542.5,11.8H546.5" stroke="#8a8a8a" stroke-width="1"/><path d="M548.8,9.8H552.2V13.600000000000001H556.0V17.0H552.2V20.8H548.8V17.0H545.0V13.600000000000001H548.8Z" fill="#2ecc2e" stroke="#0c8c0c" stroke-width="1" stroke-linejoin="round"/><path d="M550.0,10.8V14.8H546.0" stroke="#9af09a" stroke-width="1" fill="none"/><path d="M562,9.9H567.4L564.7,13Z" fill="#000"/><path d="M600.9,9.9H606.3L603.6,13Z" fill="#000"/><path d="M639.9,9.9H645.3L642.6,13Z" fill="#000"/><path d="M946,9.9H951.4L948.7,13Z" fill="#000"/><circle cx="586" cy="10.7" r="7.4" fill="#2468d0" stroke="#1448a0" stroke-width="0.8"/><path d="M580,6.5A7.4,7.4 0 0 1 592,6.5" stroke="#7cb0f4" stroke-width="1.4" fill="none"/><circle cx="586" cy="10.7" r="4.9" fill="#f4f8fc"/><path d="M586,7.3V10.9H588.8" stroke="#444" stroke-width="1.1" fill="none"/><path d="M586,6.4V7M586,14.4V15M581.7,10.7H582.3M589.7,10.7H590.3" stroke="#8aa" stroke-width="0.8"/><rect x="617.5" y="4.2" width="15" height="13.3" fill="#fff" stroke="#3a78c8" stroke-width="1.2"/><rect x="617.5" y="4.2" width="15" height="2.6" fill="#4a88dc"/><path d="M618,11.6H632" stroke="#3a78c8" stroke-width="1.1"/><path d="M619.5,9.8L622,9L624,9.6L626.5,8.2L628.5,8.8L630.8,7.8" stroke="#b02810" stroke-width="1.2" fill="none"/><path d="M619.5,15.2L622,14.2L624,15L626.5,13.4L628.5,14.6L630.8,15" stroke="#1a9a1a" stroke-width="1.2" fill="none"/><path d="M669.4,4.2V15.6L672,13.2L674.2,18.3L676,17.5L673.8,12.5L677.3,12.2Z" fill="#4a4a4a"/><path d="M694,11.2H700.3M702.8,11.2H709M701.5,4.2V10M701.5,12.5V18.9" stroke="#555" stroke-width="1.3"/><rect x="701" y="10.7" width="1" height="1" fill="#999"/><path d="M735.6,5V17.9M757.9,11.2H770M785.9,17.9L797.9,5.7" stroke="#555" stroke-width="1.15"/><path d="M811.5,13.5L825,4M813.5,16L826,7M815.5,18L826.5,10" stroke="#555" stroke-width="1"/><path d="M815.5,8.5L817,17.5M818.5,6.5L820,15.5M821.5,4.5L823,13.5M824.5,3L825.5,11" stroke="#555" stroke-width="0.9"/><text x="822.8" y="19.6" font-size="6.5" font-weight="bold" fill="#444">E</text><path d="M841,4.4H854" stroke="#555" stroke-width="1" stroke-dasharray="1,1"/><path d="M841,7.5H854" stroke="#555" stroke-width="1" stroke-dasharray="1,1"/><path d="M841,11.4H854" stroke="#555" stroke-width="1" stroke-dasharray="1,1"/><path d="M841,15.6H850" stroke="#555" stroke-width="1" stroke-dasharray="1,1"/><text x="850.8" y="19.8" font-size="6.5" font-weight="bold" fill="#444">F</text><text x="875.8" y="16.1" font-size="13" fill="#555" stroke="#555" stroke-width="0.3" text-anchor="middle">A</text><rect x="897.9" y="4.9" width="11.6" height="12.6" fill="none" stroke="#555" stroke-width="1" stroke-dasharray="1,1"/><path d="M899.8,8.9H907.8M903.8,8.9V15.6" stroke="#555" stroke-width="1.6"/><path d="M928.5,4.8L932,8.4L928.5,10.2L925,8.4ZM936,12.6L939.4,15.2L936,18L932.6,15.2Z" fill="#4a4a4a"/><path d="M927.5,11.8L929.5,13.8L934.5,8.8" stroke="#4a4a4a" stroke-width="1.3" fill="none"/><text x="972.7" y="15" font-size="10.2" fill="#404040" textLength="12.3" lengthAdjust="spacingAndGlyphs">M1</text><text x="1001" y="15" font-size="10.2" fill="#404040" textLength="12.3" lengthAdjust="spacingAndGlyphs">M5</text><text x="1026.8" y="15" font-size="10.2" fill="#404040" textLength="17.6" lengthAdjust="spacingAndGlyphs">M15</text><text x="1054.4" y="15" font-size="10.2" fill="#404040" textLength="17.8" lengthAdjust="spacingAndGlyphs">M30</text><text x="1085.3" y="15" font-size="10.2" fill="#404040" textLength="12.2" lengthAdjust="spacingAndGlyphs">H1</text><text x="1112.2" y="15" font-size="10.2" fill="#404040" textLength="12.9" lengthAdjust="spacingAndGlyphs">H4</text><text x="1141.3" y="15" font-size="10.2" fill="#404040" textLength="12.1" lengthAdjust="spacingAndGlyphs">D1</text><text x="1169" y="15" font-size="10.2" fill="#404040" textLength="14.3" lengthAdjust="spacingAndGlyphs">W1</text><text x="1195.4" y="15" font-size="10.2" fill="#404040" textLength="15.2" lengthAdjust="spacingAndGlyphs">MN</text><circle cx="1688.3" cy="8.6" r="3.7" fill="#f4f8ff" stroke="#2860c8" stroke-width="1.7"/><path d="M1685.6,11.6L1680.8,16.2" stroke="#2860c8" stroke-width="2.2" stroke-linecap="round"/><path d="M1706,12.5a5,3.8 0 1 1 5,4l-3.6,2.6l0.8,-3a5,3.8 0 0 1 -2.2,-3.6Z" fill="#f4f4f4" stroke="#b0b0b0" stroke-width="1"/><circle cx="1719.5" cy="8.6" r="8" fill="#d83020"/><path d="M1713.5,5A7,7 0 0 1 1725.5,5A9,6 0 0 0 1713.5,5Z" fill="#f08070" opacity="0.7"/><text x="1719.5" y="13" font-size="12.5" fill="#fff" text-anchor="middle">1</text>
<rect x="1732" y="23" width="1" height="923" fill="#e3e3e3"/>
</svg></body></html>
